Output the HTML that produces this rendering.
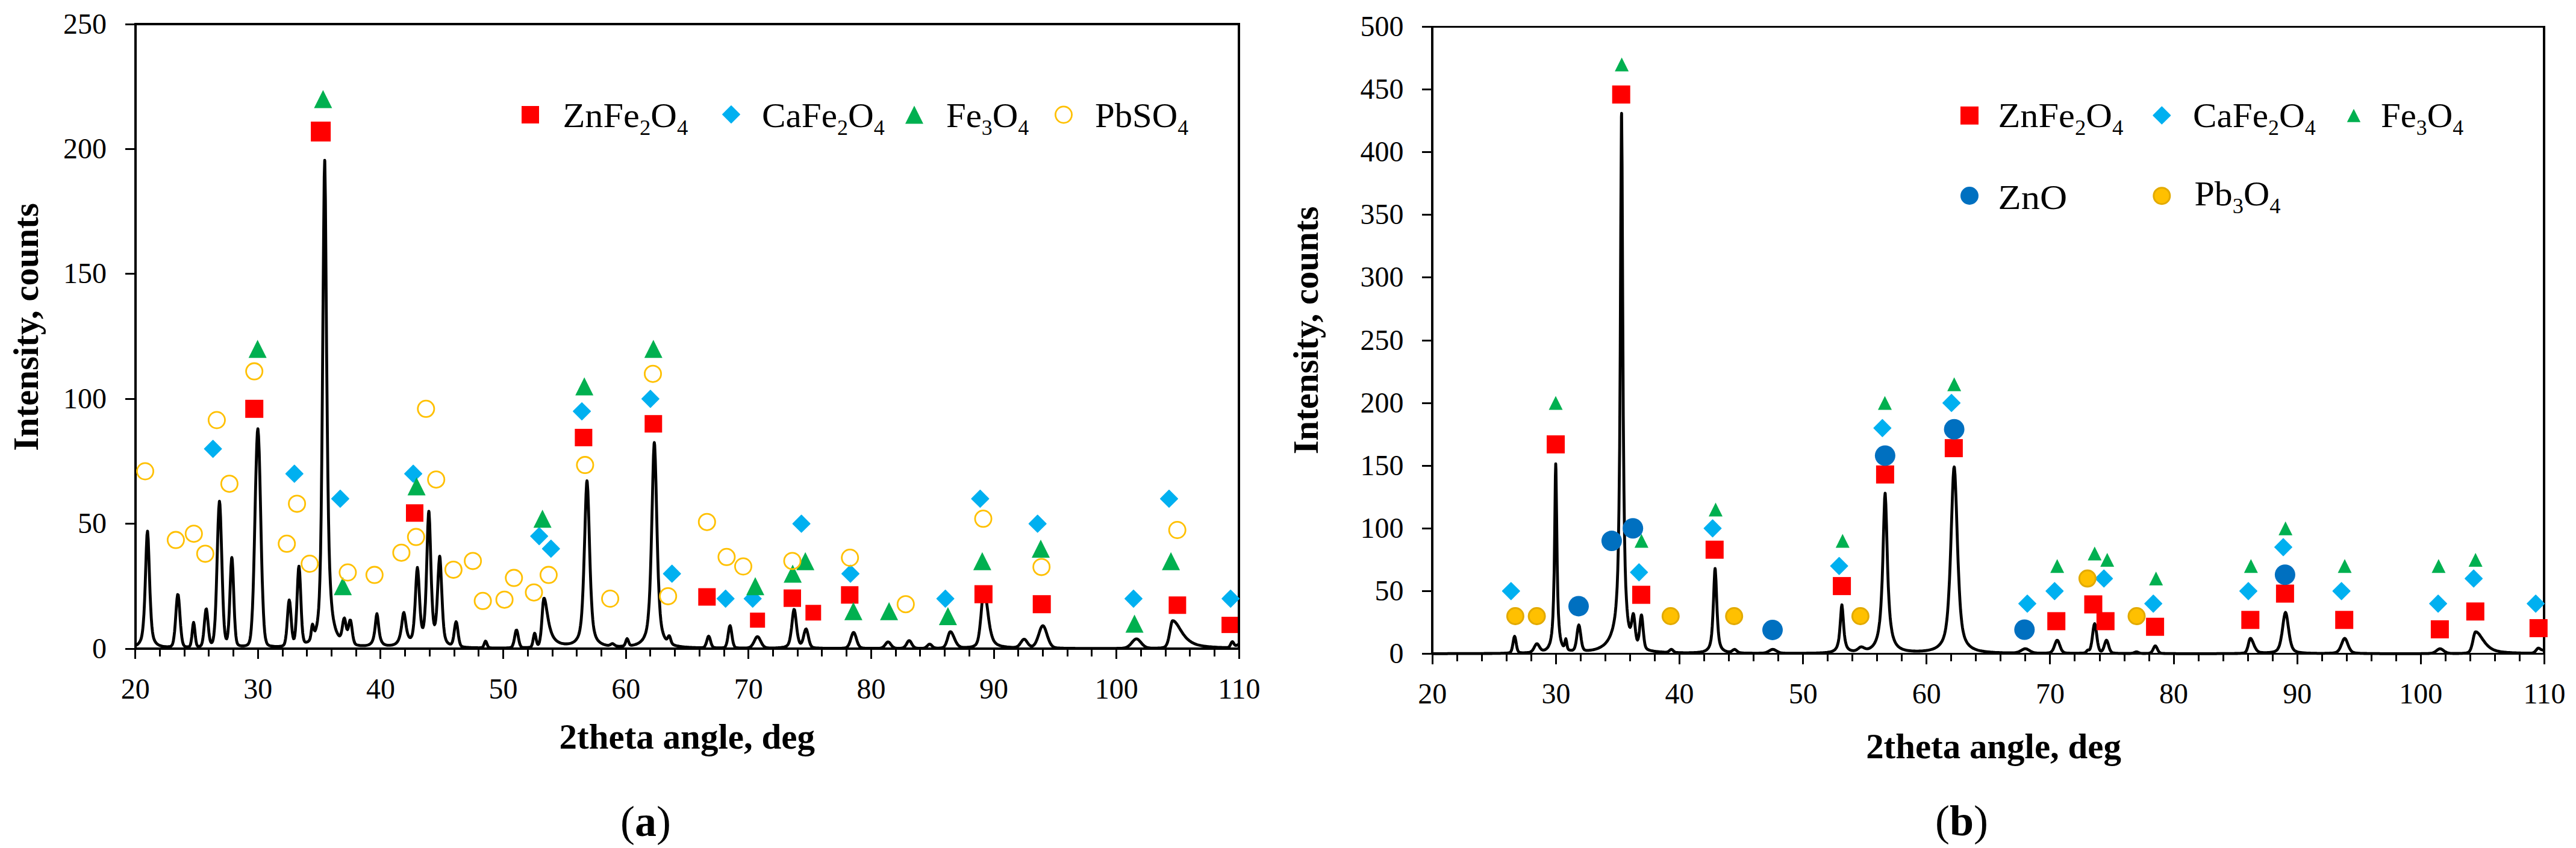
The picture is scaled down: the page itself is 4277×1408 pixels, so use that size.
<!DOCTYPE html>
<html><head><meta charset="utf-8"><title>XRD patterns</title>
<style>html,body{margin:0;padding:0;background:#fff}svg{display:block}</style>
</head><body>
<svg width="4277" height="1408" viewBox="0 0 4277 1408" font-family="Liberation Serif, serif" fill="#000">
<rect width="4277" height="1408" fill="#fff"/>
<g stroke="#000" fill="none" stroke-linecap="butt">
<line x1="225.0" y1="38.0" x2="225.0" y2="1079.0" stroke-width="4"/>
<line x1="2057.0" y1="38.0" x2="2057.0" y2="1079.0" stroke-width="4"/>
<line x1="223.0" y1="40.0" x2="2059.0" y2="40.0" stroke-width="4"/>
<line x1="223.0" y1="1077.0" x2="2059.0" y2="1077.0" stroke-width="4"/>
<line x1="208.0" y1="1077.5" x2="225.0" y2="1077.5" stroke-width="3"/>
<line x1="208.0" y1="869.5" x2="225.0" y2="869.5" stroke-width="3"/>
<line x1="208.0" y1="662.5" x2="225.0" y2="662.5" stroke-width="3"/>
<line x1="208.0" y1="454.5" x2="225.0" y2="454.5" stroke-width="3"/>
<line x1="208.0" y1="247.5" x2="225.0" y2="247.5" stroke-width="3"/>
<line x1="208.0" y1="40.5" x2="225.0" y2="40.5" stroke-width="3"/>
<line x1="224.5" y1="1077.0" x2="224.5" y2="1094" stroke-width="3"/>
<line x1="265.5" y1="1077.0" x2="265.5" y2="1090" stroke-width="3"/>
<line x1="306.5" y1="1077.0" x2="306.5" y2="1090" stroke-width="3"/>
<line x1="346.5" y1="1077.0" x2="346.5" y2="1090" stroke-width="3"/>
<line x1="387.5" y1="1077.0" x2="387.5" y2="1090" stroke-width="3"/>
<line x1="428.5" y1="1077.0" x2="428.5" y2="1094" stroke-width="3"/>
<line x1="469.5" y1="1077.0" x2="469.5" y2="1090" stroke-width="3"/>
<line x1="509.5" y1="1077.0" x2="509.5" y2="1090" stroke-width="3"/>
<line x1="550.5" y1="1077.0" x2="550.5" y2="1090" stroke-width="3"/>
<line x1="591.5" y1="1077.0" x2="591.5" y2="1090" stroke-width="3"/>
<line x1="631.5" y1="1077.0" x2="631.5" y2="1094" stroke-width="3"/>
<line x1="672.5" y1="1077.0" x2="672.5" y2="1090" stroke-width="3"/>
<line x1="713.5" y1="1077.0" x2="713.5" y2="1090" stroke-width="3"/>
<line x1="754.5" y1="1077.0" x2="754.5" y2="1090" stroke-width="3"/>
<line x1="794.5" y1="1077.0" x2="794.5" y2="1090" stroke-width="3"/>
<line x1="835.5" y1="1077.0" x2="835.5" y2="1094" stroke-width="3"/>
<line x1="876.5" y1="1077.0" x2="876.5" y2="1090" stroke-width="3"/>
<line x1="917.5" y1="1077.0" x2="917.5" y2="1090" stroke-width="3"/>
<line x1="957.5" y1="1077.0" x2="957.5" y2="1090" stroke-width="3"/>
<line x1="998.5" y1="1077.0" x2="998.5" y2="1090" stroke-width="3"/>
<line x1="1039.5" y1="1077.0" x2="1039.5" y2="1094" stroke-width="3"/>
<line x1="1079.5" y1="1077.0" x2="1079.5" y2="1090" stroke-width="3"/>
<line x1="1120.5" y1="1077.0" x2="1120.5" y2="1090" stroke-width="3"/>
<line x1="1161.5" y1="1077.0" x2="1161.5" y2="1090" stroke-width="3"/>
<line x1="1202.5" y1="1077.0" x2="1202.5" y2="1090" stroke-width="3"/>
<line x1="1242.5" y1="1077.0" x2="1242.5" y2="1094" stroke-width="3"/>
<line x1="1283.5" y1="1077.0" x2="1283.5" y2="1090" stroke-width="3"/>
<line x1="1324.5" y1="1077.0" x2="1324.5" y2="1090" stroke-width="3"/>
<line x1="1364.5" y1="1077.0" x2="1364.5" y2="1090" stroke-width="3"/>
<line x1="1405.5" y1="1077.0" x2="1405.5" y2="1090" stroke-width="3"/>
<line x1="1446.5" y1="1077.0" x2="1446.5" y2="1094" stroke-width="3"/>
<line x1="1487.5" y1="1077.0" x2="1487.5" y2="1090" stroke-width="3"/>
<line x1="1527.5" y1="1077.0" x2="1527.5" y2="1090" stroke-width="3"/>
<line x1="1568.5" y1="1077.0" x2="1568.5" y2="1090" stroke-width="3"/>
<line x1="1609.5" y1="1077.0" x2="1609.5" y2="1090" stroke-width="3"/>
<line x1="1650.5" y1="1077.0" x2="1650.5" y2="1094" stroke-width="3"/>
<line x1="1690.5" y1="1077.0" x2="1690.5" y2="1090" stroke-width="3"/>
<line x1="1731.5" y1="1077.0" x2="1731.5" y2="1090" stroke-width="3"/>
<line x1="1772.5" y1="1077.0" x2="1772.5" y2="1090" stroke-width="3"/>
<line x1="1812.5" y1="1077.0" x2="1812.5" y2="1090" stroke-width="3"/>
<line x1="1853.5" y1="1077.0" x2="1853.5" y2="1094" stroke-width="3"/>
<line x1="1894.5" y1="1077.0" x2="1894.5" y2="1090" stroke-width="3"/>
<line x1="1935.5" y1="1077.0" x2="1935.5" y2="1090" stroke-width="3"/>
<line x1="1975.5" y1="1077.0" x2="1975.5" y2="1090" stroke-width="3"/>
<line x1="2016.5" y1="1077.0" x2="2016.5" y2="1090" stroke-width="3"/>
<line x1="2057.5" y1="1077.0" x2="2057.5" y2="1094" stroke-width="3"/>
</g>
<text x="177.0" y="1092.5" font-size="48" text-anchor="end" >0</text>
<text x="177.0" y="885.1" font-size="48" text-anchor="end" >50</text>
<text x="177.0" y="677.7" font-size="48" text-anchor="end" >100</text>
<text x="177.0" y="470.3" font-size="48" text-anchor="end" >150</text>
<text x="177.0" y="262.9" font-size="48" text-anchor="end" >200</text>
<text x="177.0" y="55.5" font-size="48" text-anchor="end" >250</text>
<text x="224.7" y="1160.0" font-size="48" text-anchor="middle" >20</text>
<text x="428.3" y="1160.0" font-size="48" text-anchor="middle" >30</text>
<text x="631.9" y="1160.0" font-size="48" text-anchor="middle" >40</text>
<text x="835.6" y="1160.0" font-size="48" text-anchor="middle" >50</text>
<text x="1039.2" y="1160.0" font-size="48" text-anchor="middle" >60</text>
<text x="1242.8" y="1160.0" font-size="48" text-anchor="middle" >70</text>
<text x="1446.4" y="1160.0" font-size="48" text-anchor="middle" >80</text>
<text x="1650.0" y="1160.0" font-size="48" text-anchor="middle" >90</text>
<text x="1853.7" y="1160.0" font-size="48" text-anchor="middle" >100</text>
<text x="2057.3" y="1160.0" font-size="48" text-anchor="middle" >110</text>
<polyline points="224.7,1072.0 225.7,1071.5 226.7,1070.9 227.8,1070.3 228.8,1069.5 229.8,1068.5 230.8,1067.4 231.8,1066.0 232.8,1064.1 233.9,1061.7 234.9,1058.3 235.9,1053.3 236.9,1045.9 237.9,1035.0 239.0,1019.6 240.0,998.7 241.0,972.3 242.0,941.8 243.0,911.3 244.0,888.5 244.9,882.0 245.1,882.5 246.1,896.0 247.1,923.0 248.1,954.2 249.1,983.4 250.2,1007.6 251.2,1026.3 252.2,1039.8 253.2,1049.1 254.2,1055.4 255.2,1059.6 256.3,1062.6 257.3,1064.7 258.3,1066.3 259.3,1067.6 260.3,1068.6 261.4,1069.5 262.4,1070.2 263.4,1070.8 264.4,1071.3 265.4,1071.8 266.4,1072.1 267.5,1072.5 268.5,1072.7 269.5,1073.0 270.5,1073.2 271.5,1073.3 272.6,1073.5 273.6,1073.6 274.6,1073.7 275.6,1073.7 276.6,1073.8 277.6,1073.8 278.7,1073.8 279.7,1073.7 280.7,1073.7 281.7,1073.5 282.7,1073.3 283.7,1072.9 284.8,1072.1 285.8,1070.8 286.8,1068.3 287.8,1064.2 288.8,1057.7 289.9,1048.3 290.9,1035.9 291.9,1021.4 292.9,1006.5 293.9,994.1 294.9,987.2 296.0,988.0 297.0,996.3 298.0,1009.5 299.0,1024.5 300.0,1038.7 301.1,1050.5 302.1,1059.4 303.1,1065.4 304.1,1069.1 305.1,1071.3 306.1,1072.5 307.2,1073.2 308.2,1073.6 309.2,1073.8 310.2,1073.9 311.2,1073.9 312.3,1073.9 313.3,1073.8 314.3,1073.4 315.3,1072.3 316.3,1069.9 317.3,1065.0 318.4,1057.1 319.4,1046.9 320.4,1037.5 321.4,1033.4 322.4,1037.4 323.5,1046.8 324.5,1056.9 325.5,1064.8 326.5,1069.6 327.5,1072.0 328.5,1072.9 329.6,1073.2 330.6,1073.2 331.6,1073.0 332.6,1072.6 333.6,1071.7 334.7,1069.9 335.7,1066.7 336.7,1061.3 337.7,1053.3 338.7,1042.7 339.7,1030.7 340.8,1019.4 341.8,1012.0 342.8,1011.1 343.8,1017.1 344.8,1027.4 345.9,1039.1 346.9,1049.7 347.9,1057.8 348.9,1063.1 349.9,1066.0 350.9,1067.1 352.0,1066.7 353.0,1064.8 354.0,1061.1 355.0,1054.6 356.0,1044.1 357.1,1028.3 358.1,1006.1 359.1,977.3 360.1,942.9 361.1,906.1 362.1,871.4 363.2,844.9 364.2,832.6 364.4,832.3 365.2,837.9 366.2,859.2 367.2,891.2 368.3,927.7 369.3,963.4 370.3,994.5 371.3,1019.2 372.3,1037.2 373.3,1049.2 374.4,1056.6 375.4,1060.2 376.4,1060.7 377.4,1057.7 378.4,1050.5 379.5,1037.6 380.5,1018.2 381.5,993.1 382.5,965.5 383.5,940.9 384.5,926.9 384.9,925.6 385.6,928.8 386.6,945.8 387.6,972.0 388.6,999.9 389.6,1024.5 390.7,1043.2 391.7,1055.7 392.7,1063.2 393.7,1067.4 394.7,1069.5 395.7,1070.7 396.8,1071.3 397.8,1071.7 398.8,1072.0 399.8,1072.2 400.8,1072.3 401.8,1072.3 402.9,1072.4 403.9,1072.3 404.9,1072.3 405.9,1072.2 406.9,1072.0 408.0,1071.8 409.0,1071.5 410.0,1071.1 411.0,1070.5 412.0,1069.5 413.0,1067.9 414.1,1065.4 415.1,1061.2 416.1,1054.6 417.1,1044.6 418.1,1029.9 419.2,1009.3 420.2,982.1 421.2,947.8 422.2,907.3 423.2,862.5 424.2,816.5 425.3,773.8 426.3,739.2 427.3,717.6 428.1,712.0 428.3,712.3 429.3,724.4 430.4,751.7 431.4,790.2 432.4,834.8 433.4,880.8 434.4,924.2 435.4,962.4 436.5,993.9 437.5,1018.4 438.5,1036.5 439.5,1049.2 440.5,1057.7 441.6,1063.2 442.6,1066.7 443.6,1068.8 444.6,1070.2 445.6,1071.0 446.6,1071.6 447.7,1072.0 448.7,1072.3 449.7,1072.5 450.7,1072.7 451.7,1072.9 452.8,1073.0 453.8,1073.1 454.8,1073.2 455.8,1073.3 456.8,1073.3 457.8,1073.4 458.9,1073.4 459.9,1073.4 460.9,1073.4 461.9,1073.3 462.9,1073.3 464.0,1073.2 465.0,1073.1 466.0,1073.0 467.0,1072.8 468.0,1072.6 469.0,1072.3 470.1,1071.8 471.1,1070.9 472.1,1069.2 473.1,1066.0 474.1,1060.6 475.2,1052.2 476.2,1040.5 477.2,1026.3 478.2,1011.9 479.2,1000.6 480.2,996.1 481.3,1000.2 482.3,1011.0 483.3,1025.0 484.3,1038.6 485.3,1049.6 486.4,1056.9 487.4,1060.5 488.4,1060.2 489.4,1055.8 490.4,1046.5 491.4,1031.4 492.5,1010.7 493.5,986.2 494.5,962.2 495.5,945.0 496.3,940.1 496.5,940.4 497.6,950.4 498.6,971.0 499.6,995.7 500.6,1019.0 501.6,1037.5 502.6,1050.5 503.7,1058.5 504.7,1062.9 505.7,1065.0 506.7,1066.0 507.7,1066.3 508.7,1066.2 509.8,1066.0 510.8,1065.6 511.8,1065.0 512.8,1064.2 513.8,1062.7 514.9,1059.8 515.9,1054.6 516.9,1047.0 517.9,1039.5 518.9,1036.2 519.9,1038.6 521.0,1043.4 522.0,1046.8 523.0,1047.4 524.0,1045.5 525.0,1042.0 526.1,1037.1 527.1,1030.8 528.1,1022.1 529.1,1009.7 530.1,991.2 531.1,962.9 532.2,920.0 533.2,856.9 534.2,769.4 535.2,656.9 536.2,525.6 537.3,393.5 538.3,294.3 539.1,266.1 539.3,268.1 540.3,332.9 541.3,455.2 542.3,586.8 543.4,701.2 544.4,791.2 545.4,858.4 546.4,907.2 547.4,942.4 548.5,967.8 549.5,986.4 550.5,1000.5 551.5,1011.5 552.5,1020.1 553.5,1027.2 554.6,1032.9 555.6,1037.7 556.6,1041.7 557.6,1045.1 558.6,1048.0 559.7,1050.4 560.7,1052.5 561.7,1054.1 562.7,1055.3 563.7,1055.8 564.7,1055.3 565.8,1053.5 566.8,1049.9 567.8,1044.6 568.8,1038.1 569.8,1031.7 570.9,1027.1 571.9,1026.1 572.9,1029.1 573.9,1034.6 574.9,1040.5 575.9,1044.5 577.0,1045.5 578.0,1043.2 579.0,1038.5 580.0,1033.2 581.0,1029.7 582.1,1029.9 583.1,1034.2 584.1,1041.2 585.1,1049.0 586.1,1056.1 587.1,1061.7 588.2,1065.5 589.2,1068.0 590.2,1069.4 591.2,1070.2 592.2,1070.7 593.3,1071.0 594.3,1071.2 595.3,1071.4 596.3,1071.5 597.3,1071.7 598.3,1071.8 599.4,1071.8 600.4,1071.9 601.4,1071.9 602.4,1071.9 603.4,1071.9 604.5,1071.9 605.5,1071.9 606.5,1071.8 607.5,1071.7 608.5,1071.5 609.5,1071.3 610.6,1071.0 611.6,1070.7 612.6,1070.3 613.6,1069.8 614.6,1069.1 615.7,1068.2 616.7,1067.1 617.7,1065.5 618.7,1063.3 619.7,1060.1 620.7,1055.7 621.8,1049.5 622.8,1041.4 623.8,1031.7 624.8,1022.8 625.8,1018.9 626.8,1022.8 627.9,1031.7 628.9,1041.4 629.9,1049.5 630.9,1055.7 631.9,1060.1 633.0,1063.2 634.0,1065.5 635.0,1067.0 636.0,1068.2 637.0,1069.1 638.0,1069.7 639.1,1070.2 640.1,1070.6 641.1,1070.9 642.1,1071.1 643.1,1071.3 644.2,1071.4 645.2,1071.4 646.2,1071.4 647.2,1071.4 648.2,1071.3 649.2,1071.2 650.3,1071.1 651.3,1070.9 652.3,1070.6 653.3,1070.3 654.3,1069.9 655.4,1069.4 656.4,1068.9 657.4,1068.1 658.4,1067.2 659.4,1066.1 660.4,1064.6 661.5,1062.7 662.5,1060.2 663.5,1057.0 664.5,1052.7 665.5,1047.2 666.6,1040.5 667.6,1032.6 668.6,1024.7 669.6,1018.7 670.6,1016.9 671.6,1020.2 672.7,1026.8 673.7,1034.4 674.7,1041.4 675.7,1047.1 676.7,1051.5 677.8,1054.7 678.8,1056.8 679.8,1058.2 680.8,1058.7 681.8,1058.6 682.8,1057.5 683.9,1055.3 684.9,1051.3 685.9,1045.0 686.9,1035.4 687.9,1022.2 689.0,1005.1 690.0,985.2 691.0,964.9 692.0,948.8 693.0,942.2 694.0,948.0 695.1,963.4 696.1,982.8 697.1,1001.8 698.1,1017.8 699.1,1029.7 700.2,1037.6 701.2,1041.6 702.2,1042.1 703.2,1039.0 704.2,1031.7 705.2,1019.2 706.3,1000.6 707.3,975.1 708.3,943.5 709.3,908.2 710.3,875.0 711.4,852.9 712.0,848.9 712.4,850.6 713.4,869.2 714.4,900.8 715.4,936.1 716.4,968.6 717.5,995.1 718.5,1014.7 719.5,1027.7 720.5,1034.9 721.5,1037.2 722.6,1035.0 723.6,1028.1 724.6,1016.5 725.6,999.9 726.6,979.2 727.6,956.5 728.7,936.2 729.7,924.5 730.1,923.5 730.7,926.6 731.7,941.8 732.7,964.4 733.8,988.4 734.8,1010.0 735.8,1027.6 736.8,1040.8 737.8,1050.1 738.8,1056.4 739.9,1060.5 740.9,1063.3 741.9,1065.1 742.9,1066.5 743.9,1067.5 744.9,1068.3 746.0,1068.9 747.0,1069.3 748.0,1069.4 749.0,1069.1 750.0,1068.0 751.1,1065.8 752.1,1061.9 753.1,1056.3 754.1,1049.2 755.1,1041.6 756.1,1035.3 757.2,1032.3 758.2,1033.8 759.2,1039.4 760.2,1047.1 761.2,1054.9 762.3,1061.6 763.3,1066.6 764.3,1069.8 765.3,1071.8 766.3,1072.9 767.3,1073.5 768.4,1073.9 769.4,1074.1 770.4,1074.3 771.4,1074.4 772.4,1074.6 773.5,1074.7 774.5,1074.8 775.5,1074.9 776.5,1074.9 777.5,1075.0 778.5,1075.1 779.6,1075.1 780.6,1075.2 781.6,1075.2 782.6,1075.3 783.6,1075.3 784.7,1075.4 785.7,1075.4 786.7,1075.4 787.7,1075.4 788.7,1075.5 789.7,1075.5 790.8,1075.5 791.8,1075.5 792.8,1075.5 793.8,1075.6 794.8,1075.6 795.9,1075.6 796.9,1075.5 797.9,1075.5 798.9,1075.4 799.9,1075.2 800.9,1074.6 802.0,1073.5 803.0,1071.5 804.0,1068.8 805.0,1066.1 806.0,1064.6 807.1,1065.3 808.1,1067.7 809.1,1070.5 810.1,1072.9 811.1,1074.4 812.1,1075.1 813.2,1075.5 814.2,1075.7 815.2,1075.7 816.2,1075.8 817.2,1075.8 818.3,1075.8 819.3,1075.9 820.3,1075.9 821.3,1075.9 822.3,1075.9 823.3,1075.9 824.4,1075.9 825.4,1075.9 826.4,1075.9 827.4,1075.9 828.4,1075.9 829.5,1075.9 830.5,1075.9 831.5,1075.9 832.5,1075.9 833.5,1075.9 834.5,1075.9 835.6,1075.9 836.6,1075.9 837.6,1075.8 838.6,1075.8 839.6,1075.8 840.7,1075.8 841.7,1075.7 842.7,1075.7 843.7,1075.6 844.7,1075.6 845.7,1075.5 846.8,1075.3 847.8,1075.1 848.8,1074.7 849.8,1073.8 850.8,1072.3 851.8,1069.7 852.9,1066.0 853.9,1061.0 854.9,1055.3 855.9,1050.0 856.9,1046.5 858.0,1046.2 859.0,1049.1 860.0,1054.1 861.0,1059.8 862.0,1064.9 863.0,1069.0 864.1,1071.7 865.1,1073.4 866.1,1074.3 867.1,1074.8 868.1,1075.0 869.2,1075.1 870.2,1075.2 871.2,1075.2 872.2,1075.2 873.2,1075.2 874.2,1075.2 875.3,1075.2 876.3,1075.1 877.3,1075.0 878.3,1074.9 879.3,1074.8 880.4,1074.5 881.4,1073.9 882.4,1072.7 883.4,1070.2 884.4,1066.0 885.4,1060.3 886.5,1054.6 887.5,1051.4 888.5,1052.6 889.5,1057.2 890.5,1062.7 891.6,1067.0 892.6,1069.5 893.6,1070.0 894.6,1068.9 895.6,1066.0 896.6,1061.0 897.7,1053.2 898.7,1042.3 899.7,1028.7 900.7,1014.0 901.7,1001.0 902.8,993.5 903.8,993.3 904.8,996.0 905.8,1000.7 906.8,1006.7 907.8,1013.3 908.9,1019.9 909.9,1026.1 910.9,1031.9 911.9,1036.9 912.9,1041.4 914.0,1045.2 915.0,1048.6 916.0,1051.4 917.0,1053.9 918.0,1056.0 919.0,1057.8 920.1,1059.4 921.1,1060.8 922.1,1062.0 923.1,1063.0 924.1,1063.9 925.2,1064.7 926.2,1065.4 927.2,1066.0 928.2,1066.6 929.2,1067.0 930.2,1067.4 931.3,1067.8 932.3,1068.1 933.3,1068.3 934.3,1068.5 935.3,1068.7 936.4,1068.9 937.4,1069.0 938.4,1069.0 939.4,1069.1 940.4,1069.0 941.4,1069.0 942.5,1068.9 943.5,1068.8 944.5,1068.7 945.5,1068.5 946.5,1068.3 947.6,1068.0 948.6,1067.7 949.6,1067.3 950.6,1066.8 951.6,1066.3 952.6,1065.7 953.7,1065.0 954.7,1064.1 955.7,1063.1 956.7,1061.9 957.7,1060.5 958.8,1058.8 959.8,1056.7 960.8,1054.0 961.8,1050.5 962.8,1045.7 963.8,1039.1 964.9,1030.1 965.9,1017.8 966.9,1001.4 967.9,980.1 968.9,953.7 969.9,922.3 971.0,887.3 972.0,851.8 973.0,820.9 974.0,801.6 974.6,798.3 975.0,799.8 976.1,816.0 977.1,845.1 978.1,880.3 979.1,915.7 980.1,948.0 981.1,975.5 982.2,997.9 983.2,1015.3 984.2,1028.4 985.2,1038.0 986.2,1045.1 987.3,1050.2 988.3,1054.0 989.3,1056.9 990.3,1059.2 991.3,1061.0 992.3,1062.6 993.4,1063.8 994.4,1064.9 995.4,1065.9 996.4,1066.7 997.4,1067.4 998.5,1068.1 999.5,1068.6 1000.5,1069.1 1001.5,1069.6 1002.5,1070.0 1003.5,1070.3 1004.6,1070.6 1005.6,1070.9 1006.6,1071.1 1007.6,1071.3 1008.6,1071.4 1009.7,1071.5 1010.7,1071.4 1011.7,1071.2 1012.7,1070.7 1013.7,1070.1 1014.7,1069.5 1015.8,1068.9 1016.8,1068.7 1017.8,1068.9 1018.8,1069.5 1019.8,1070.3 1020.9,1071.1 1021.9,1071.8 1022.9,1072.3 1023.9,1072.7 1024.9,1072.9 1025.9,1073.0 1027.0,1073.1 1028.0,1073.1 1029.0,1073.1 1030.0,1073.1 1031.0,1073.0 1032.1,1073.0 1033.1,1072.9 1034.1,1072.7 1035.1,1072.4 1036.1,1071.6 1037.1,1070.1 1038.2,1067.7 1039.2,1064.6 1040.2,1061.7 1041.2,1060.4 1042.2,1061.5 1043.3,1064.2 1044.3,1067.1 1045.3,1069.4 1046.3,1070.7 1047.3,1071.3 1048.3,1071.4 1049.4,1071.4 1050.4,1071.2 1051.4,1071.0 1052.4,1070.8 1053.4,1070.5 1054.5,1070.2 1055.5,1069.9 1056.5,1069.6 1057.5,1069.1 1058.5,1068.7 1059.5,1068.2 1060.6,1067.6 1061.6,1066.9 1062.6,1066.2 1063.6,1065.4 1064.6,1064.4 1065.7,1063.3 1066.7,1062.1 1067.7,1060.6 1068.7,1058.9 1069.7,1056.9 1070.7,1054.5 1071.8,1051.5 1072.8,1047.8 1073.8,1042.9 1074.8,1036.5 1075.8,1027.8 1076.8,1015.9 1077.9,1000.1 1078.9,979.1 1079.9,952.2 1080.9,919.0 1081.9,879.8 1083.0,836.5 1084.0,793.2 1085.0,756.9 1086.0,736.7 1086.4,734.8 1087.0,739.1 1088.0,763.2 1089.1,801.6 1090.1,845.4 1091.1,888.1 1092.1,926.2 1093.1,958.2 1094.2,983.8 1095.2,1003.7 1096.2,1018.7 1097.2,1029.8 1098.2,1038.0 1099.2,1044.1 1100.3,1048.7 1101.3,1052.3 1102.3,1055.1 1103.3,1057.4 1104.3,1059.2 1105.4,1060.5 1106.4,1061.1 1107.4,1060.7 1108.4,1059.3 1109.4,1057.3 1110.4,1055.6 1111.5,1055.6 1112.5,1057.9 1113.5,1061.3 1114.5,1064.7 1115.5,1067.3 1116.6,1069.0 1117.6,1070.0 1118.6,1070.6 1119.6,1071.1 1120.6,1071.4 1121.6,1071.8 1122.7,1072.0 1123.7,1072.3 1124.7,1072.5 1125.7,1072.7 1126.7,1072.9 1127.8,1073.1 1128.8,1073.3 1129.8,1073.4 1130.8,1073.6 1131.8,1073.7 1132.8,1073.8 1133.9,1074.0 1134.9,1074.1 1135.9,1074.2 1136.9,1074.3 1137.9,1074.4 1139.0,1074.4 1140.0,1074.5 1141.0,1074.6 1142.0,1074.7 1143.0,1074.7 1144.0,1074.8 1145.1,1074.9 1146.1,1074.9 1147.1,1075.0 1148.1,1075.0 1149.1,1075.1 1150.2,1075.1 1151.2,1075.1 1152.2,1075.2 1153.2,1075.2 1154.2,1075.2 1155.2,1075.3 1156.3,1075.3 1157.3,1075.3 1158.3,1075.3 1159.3,1075.4 1160.3,1075.4 1161.4,1075.4 1162.4,1075.4 1163.4,1075.4 1164.4,1075.3 1165.4,1075.3 1166.4,1075.2 1167.5,1075.0 1168.5,1074.6 1169.5,1073.8 1170.5,1072.5 1171.5,1070.3 1172.6,1067.4 1173.6,1063.8 1174.6,1060.2 1175.6,1057.3 1176.6,1056.3 1177.6,1057.4 1178.7,1060.2 1179.7,1063.9 1180.7,1067.5 1181.7,1070.5 1182.7,1072.6 1183.8,1074.0 1184.8,1074.8 1185.8,1075.2 1186.8,1075.4 1187.8,1075.5 1188.8,1075.6 1189.9,1075.7 1190.9,1075.7 1191.9,1075.7 1192.9,1075.7 1193.9,1075.7 1194.9,1075.7 1196.0,1075.7 1197.0,1075.7 1198.0,1075.6 1199.0,1075.6 1200.0,1075.5 1201.1,1075.3 1202.1,1075.1 1203.1,1074.6 1204.1,1073.7 1205.1,1072.0 1206.1,1069.2 1207.2,1064.8 1208.2,1058.9 1209.2,1051.9 1210.2,1045.1 1211.2,1040.2 1212.3,1038.9 1213.3,1041.8 1214.3,1047.7 1215.3,1054.8 1216.3,1061.4 1217.3,1066.8 1218.4,1070.5 1219.4,1072.9 1220.4,1074.2 1221.4,1074.9 1222.4,1075.3 1223.5,1075.5 1224.5,1075.6 1225.5,1075.7 1226.5,1075.8 1227.5,1075.8 1228.5,1075.9 1229.6,1075.9 1230.6,1075.9 1231.6,1075.9 1232.6,1075.9 1233.6,1076.0 1234.7,1075.9 1235.7,1075.9 1236.7,1075.9 1237.7,1075.9 1238.7,1075.9 1239.7,1075.8 1240.8,1075.7 1241.8,1075.6 1242.8,1075.4 1243.8,1075.0 1244.8,1074.6 1245.9,1074.0 1246.9,1073.2 1247.9,1072.1 1248.9,1070.8 1249.9,1069.2 1250.9,1067.3 1252.0,1065.3 1253.0,1063.2 1254.0,1061.2 1255.0,1059.4 1256.0,1058.0 1257.1,1057.2 1258.1,1057.1 1259.1,1057.8 1260.1,1059.0 1261.1,1060.8 1262.1,1062.8 1263.2,1064.9 1264.2,1066.9 1265.2,1068.8 1266.2,1070.5 1267.2,1071.8 1268.3,1073.0 1269.3,1073.8 1270.3,1074.5 1271.3,1074.9 1272.3,1075.3 1273.3,1075.5 1274.4,1075.6 1275.4,1075.7 1276.4,1075.8 1277.4,1075.8 1278.4,1075.9 1279.5,1075.9 1280.5,1075.9 1281.5,1075.9 1282.5,1075.9 1283.5,1075.9 1284.5,1075.8 1285.6,1075.8 1286.6,1075.8 1287.6,1075.8 1288.6,1075.7 1289.6,1075.7 1290.7,1075.6 1291.7,1075.6 1292.7,1075.5 1293.7,1075.4 1294.7,1075.4 1295.7,1075.3 1296.8,1075.1 1297.8,1075.0 1298.8,1074.9 1299.8,1074.7 1300.8,1074.5 1301.8,1074.3 1302.9,1074.0 1303.9,1073.6 1304.9,1073.2 1305.9,1072.6 1306.9,1071.8 1308.0,1070.6 1309.0,1068.9 1310.0,1066.4 1311.0,1062.8 1312.0,1057.8 1313.0,1051.2 1314.1,1043.1 1315.1,1033.9 1316.1,1024.5 1317.1,1016.5 1318.1,1011.9 1319.2,1012.4 1320.2,1017.8 1321.2,1026.2 1322.2,1035.6 1323.2,1044.6 1324.2,1052.2 1325.3,1058.3 1326.3,1062.8 1327.3,1065.8 1328.3,1067.5 1329.3,1068.0 1330.4,1067.5 1331.4,1066.0 1332.4,1063.3 1333.4,1059.8 1334.4,1055.6 1335.4,1051.2 1336.5,1047.3 1337.5,1044.8 1338.5,1044.3 1339.5,1046.0 1340.5,1049.5 1341.6,1054.0 1342.6,1058.8 1343.6,1063.3 1344.6,1067.0 1345.6,1069.9 1346.6,1072.0 1347.7,1073.4 1348.7,1074.3 1349.7,1074.8 1350.7,1075.2 1351.7,1075.4 1352.8,1075.6 1353.8,1075.7 1354.8,1075.8 1355.8,1075.8 1356.8,1075.9 1357.8,1076.0 1358.9,1076.0 1359.9,1076.1 1360.9,1076.1 1361.9,1076.1 1362.9,1076.2 1364.0,1076.2 1365.0,1076.2 1366.0,1076.3 1367.0,1076.3 1368.0,1076.3 1369.0,1076.3 1370.1,1076.3 1371.1,1076.3 1372.1,1076.4 1373.1,1076.4 1374.1,1076.4 1375.2,1076.4 1376.2,1076.4 1377.2,1076.4 1378.2,1076.4 1379.2,1076.4 1380.2,1076.4 1381.3,1076.4 1382.3,1076.4 1383.3,1076.4 1384.3,1076.4 1385.3,1076.4 1386.4,1076.4 1387.4,1076.4 1388.4,1076.4 1389.4,1076.4 1390.4,1076.4 1391.4,1076.4 1392.5,1076.4 1393.5,1076.4 1394.5,1076.3 1395.5,1076.3 1396.5,1076.3 1397.6,1076.3 1398.6,1076.2 1399.6,1076.2 1400.6,1076.1 1401.6,1076.0 1402.6,1075.9 1403.7,1075.6 1404.7,1075.3 1405.7,1074.7 1406.7,1073.9 1407.7,1072.7 1408.8,1071.1 1409.8,1069.0 1410.8,1066.4 1411.8,1063.4 1412.8,1060.0 1413.8,1056.7 1414.9,1053.6 1415.9,1051.3 1416.9,1050.1 1417.9,1050.3 1418.9,1051.7 1419.9,1054.2 1421.0,1057.3 1422.0,1060.7 1423.0,1064.0 1424.0,1067.0 1425.0,1069.5 1426.1,1071.5 1427.1,1073.0 1428.1,1074.1 1429.1,1074.9 1430.1,1075.4 1431.1,1075.7 1432.2,1075.9 1433.2,1076.1 1434.2,1076.2 1435.2,1076.2 1436.2,1076.3 1437.3,1076.3 1438.3,1076.4 1439.3,1076.4 1440.3,1076.4 1441.3,1076.4 1442.3,1076.4 1443.4,1076.5 1444.4,1076.5 1445.4,1076.5 1446.4,1076.5 1447.4,1076.5 1448.5,1076.5 1449.5,1076.5 1450.5,1076.5 1451.5,1076.5 1452.5,1076.5 1453.5,1076.5 1454.6,1076.5 1455.6,1076.5 1456.6,1076.5 1457.6,1076.4 1458.6,1076.4 1459.7,1076.3 1460.7,1076.3 1461.7,1076.1 1462.7,1075.9 1463.7,1075.6 1464.7,1075.2 1465.8,1074.6 1466.8,1073.7 1467.8,1072.7 1468.8,1071.5 1469.8,1070.2 1470.9,1068.8 1471.9,1067.5 1472.9,1066.5 1473.9,1065.9 1474.9,1065.8 1475.9,1066.3 1477.0,1067.3 1478.0,1068.5 1479.0,1069.9 1480.0,1071.2 1481.0,1072.5 1482.1,1073.5 1483.1,1074.4 1484.1,1075.0 1485.1,1075.5 1486.1,1075.8 1487.1,1076.0 1488.2,1076.2 1489.2,1076.3 1490.2,1076.3 1491.2,1076.3 1492.2,1076.3 1493.3,1076.3 1494.3,1076.3 1495.3,1076.3 1496.3,1076.2 1497.3,1076.1 1498.3,1075.8 1499.4,1075.5 1500.4,1075.0 1501.4,1074.2 1502.4,1073.2 1503.4,1071.9 1504.5,1070.3 1505.5,1068.5 1506.5,1066.7 1507.5,1065.2 1508.5,1064.1 1509.5,1063.7 1510.6,1064.1 1511.6,1065.2 1512.6,1066.7 1513.6,1068.5 1514.6,1070.3 1515.7,1071.9 1516.7,1073.2 1517.7,1074.2 1518.7,1075.0 1519.7,1075.5 1520.7,1075.9 1521.8,1076.1 1522.8,1076.2 1523.8,1076.3 1524.8,1076.3 1525.8,1076.3 1526.8,1076.4 1527.9,1076.4 1528.9,1076.4 1529.9,1076.4 1530.9,1076.3 1531.9,1076.3 1533.0,1076.2 1534.0,1076.0 1535.0,1075.7 1536.0,1075.3 1537.0,1074.7 1538.0,1073.9 1539.1,1072.9 1540.1,1071.9 1541.1,1070.9 1542.1,1070.0 1543.1,1069.6 1544.2,1069.6 1545.2,1070.1 1546.2,1071.0 1547.2,1072.0 1548.2,1073.1 1549.2,1074.0 1550.3,1074.7 1551.3,1075.3 1552.3,1075.7 1553.3,1075.9 1554.3,1076.0 1555.4,1076.1 1556.4,1076.1 1557.4,1076.1 1558.4,1076.1 1559.4,1076.1 1560.4,1076.0 1561.5,1075.9 1562.5,1075.8 1563.5,1075.6 1564.5,1075.4 1565.5,1075.0 1566.6,1074.4 1567.6,1073.4 1568.6,1072.1 1569.6,1070.4 1570.6,1068.1 1571.6,1065.2 1572.7,1062.0 1573.7,1058.5 1574.7,1055.0 1575.7,1052.0 1576.7,1049.8 1577.8,1048.8 1578.8,1049.0 1579.8,1049.9 1580.8,1051.5 1581.8,1053.4 1582.8,1055.7 1583.9,1058.1 1584.9,1060.5 1585.9,1062.8 1586.9,1065.0 1587.9,1066.9 1589.0,1068.6 1590.0,1070.1 1591.0,1071.2 1592.0,1072.2 1593.0,1072.9 1594.0,1073.5 1595.1,1074.0 1596.1,1074.3 1597.1,1074.5 1598.1,1074.7 1599.1,1074.8 1600.2,1074.8 1601.2,1074.9 1602.2,1074.9 1603.2,1074.9 1604.2,1074.8 1605.2,1074.8 1606.3,1074.7 1607.3,1074.7 1608.3,1074.6 1609.3,1074.5 1610.3,1074.3 1611.4,1074.2 1612.4,1074.0 1613.4,1073.8 1614.4,1073.5 1615.4,1073.2 1616.4,1072.8 1617.5,1072.3 1618.5,1071.7 1619.5,1070.9 1620.5,1069.7 1621.5,1068.0 1622.6,1065.5 1623.6,1062.1 1624.6,1057.4 1625.6,1051.2 1626.6,1043.2 1627.6,1033.6 1628.7,1022.4 1629.7,1010.3 1630.7,998.3 1631.7,987.6 1632.7,980.2 1633.8,977.4 1634.8,978.9 1635.8,983.1 1636.8,989.4 1637.8,997.1 1638.8,1005.5 1639.9,1013.9 1640.9,1022.1 1641.9,1029.7 1642.9,1036.5 1643.9,1042.6 1644.9,1047.8 1646.0,1052.3 1647.0,1056.0 1648.0,1059.1 1649.0,1061.6 1650.0,1063.7 1651.1,1065.4 1652.1,1066.7 1653.1,1067.8 1654.1,1068.7 1655.1,1069.5 1656.1,1070.1 1657.2,1070.7 1658.2,1071.1 1659.2,1071.6 1660.2,1071.9 1661.2,1072.2 1662.3,1072.5 1663.3,1072.8 1664.3,1073.0 1665.3,1073.2 1666.3,1073.4 1667.3,1073.6 1668.4,1073.7 1669.4,1073.9 1670.4,1074.0 1671.4,1074.1 1672.4,1074.3 1673.5,1074.4 1674.5,1074.4 1675.5,1074.5 1676.5,1074.6 1677.5,1074.7 1678.5,1074.7 1679.6,1074.8 1680.6,1074.8 1681.6,1074.8 1682.6,1074.8 1683.6,1074.8 1684.7,1074.7 1685.7,1074.6 1686.7,1074.4 1687.7,1074.0 1688.7,1073.6 1689.7,1073.0 1690.8,1072.2 1691.8,1071.1 1692.8,1069.9 1693.8,1068.5 1694.8,1067.0 1695.9,1065.5 1696.9,1064.0 1697.9,1062.7 1698.9,1061.8 1699.9,1061.3 1700.9,1061.3 1702.0,1061.9 1703.0,1062.9 1704.0,1064.2 1705.0,1065.7 1706.0,1067.2 1707.1,1068.7 1708.1,1069.9 1709.1,1071.0 1710.1,1071.9 1711.1,1072.4 1712.1,1072.7 1713.2,1072.8 1714.2,1072.6 1715.2,1072.1 1716.2,1071.3 1717.2,1070.3 1718.3,1068.9 1719.3,1067.2 1720.3,1065.1 1721.3,1062.8 1722.3,1060.1 1723.3,1057.2 1724.4,1054.1 1725.4,1050.9 1726.4,1047.8 1727.4,1044.9 1728.4,1042.4 1729.5,1040.5 1730.5,1039.3 1731.5,1038.8 1732.5,1039.3 1733.5,1040.5 1734.5,1042.5 1735.6,1045.0 1736.6,1048.0 1737.6,1051.1 1738.6,1054.3 1739.6,1057.4 1740.7,1060.4 1741.7,1063.1 1742.7,1065.5 1743.7,1067.6 1744.7,1069.4 1745.7,1070.9 1746.8,1072.1 1747.8,1073.0 1748.8,1073.8 1749.8,1074.3 1750.8,1074.8 1751.8,1075.1 1752.9,1075.3 1753.9,1075.5 1754.9,1075.7 1755.9,1075.8 1756.9,1075.9 1758.0,1075.9 1759.0,1076.0 1760.0,1076.1 1761.0,1076.1 1762.0,1076.1 1763.0,1076.2 1764.1,1076.2 1765.1,1076.2 1766.1,1076.3 1767.1,1076.3 1768.1,1076.3 1769.2,1076.3 1770.2,1076.4 1771.2,1076.4 1772.2,1076.4 1773.2,1076.4 1774.2,1076.4 1775.3,1076.4 1776.3,1076.5 1777.3,1076.5 1778.3,1076.5 1779.3,1076.5 1780.4,1076.5 1781.4,1076.5 1782.4,1076.5 1783.4,1076.5 1784.4,1076.5 1785.4,1076.6 1786.5,1076.6 1787.5,1076.6 1788.5,1076.6 1789.5,1076.6 1790.5,1076.6 1791.6,1076.6 1792.6,1076.6 1793.6,1076.6 1794.6,1076.6 1795.6,1076.6 1796.6,1076.6 1797.7,1076.6 1798.7,1076.6 1799.7,1076.6 1800.7,1076.6 1801.7,1076.6 1802.8,1076.6 1803.8,1076.7 1804.8,1076.7 1805.8,1076.7 1806.8,1076.7 1807.8,1076.7 1808.9,1076.7 1809.9,1076.7 1810.9,1076.7 1811.9,1076.7 1812.9,1076.7 1814.0,1076.7 1815.0,1076.7 1816.0,1076.7 1817.0,1076.7 1818.0,1076.7 1819.0,1076.7 1820.1,1076.7 1821.1,1076.7 1822.1,1076.7 1823.1,1076.7 1824.1,1076.7 1825.2,1076.7 1826.2,1076.7 1827.2,1076.7 1828.2,1076.7 1829.2,1076.7 1830.2,1076.7 1831.3,1076.7 1832.3,1076.7 1833.3,1076.7 1834.3,1076.7 1835.3,1076.7 1836.4,1076.7 1837.4,1076.7 1838.4,1076.7 1839.4,1076.7 1840.4,1076.7 1841.4,1076.7 1842.5,1076.7 1843.5,1076.6 1844.5,1076.6 1845.5,1076.6 1846.5,1076.6 1847.6,1076.6 1848.6,1076.6 1849.6,1076.6 1850.6,1076.6 1851.6,1076.6 1852.6,1076.6 1853.7,1076.6 1854.7,1076.5 1855.7,1076.5 1856.7,1076.5 1857.7,1076.5 1858.8,1076.5 1859.8,1076.4 1860.8,1076.4 1861.8,1076.3 1862.8,1076.3 1863.8,1076.2 1864.9,1076.1 1865.9,1075.9 1866.9,1075.8 1867.9,1075.5 1868.9,1075.2 1869.9,1074.9 1871.0,1074.4 1872.0,1073.9 1873.0,1073.2 1874.0,1072.4 1875.0,1071.6 1876.1,1070.6 1877.1,1069.5 1878.1,1068.3 1879.1,1067.1 1880.1,1065.9 1881.1,1064.7 1882.2,1063.6 1883.2,1062.6 1884.2,1061.8 1885.2,1061.2 1886.2,1060.9 1887.3,1060.8 1888.3,1061.1 1889.3,1061.6 1890.3,1062.4 1891.3,1063.4 1892.3,1064.5 1893.4,1065.6 1894.4,1066.8 1895.4,1068.1 1896.4,1069.2 1897.4,1070.3 1898.5,1071.3 1899.5,1072.2 1900.5,1073.0 1901.5,1073.6 1902.5,1074.2 1903.5,1074.7 1904.6,1075.0 1905.6,1075.3 1906.6,1075.6 1907.6,1075.7 1908.6,1075.9 1909.7,1076.0 1910.7,1076.1 1911.7,1076.1 1912.7,1076.1 1913.7,1076.2 1914.7,1076.2 1915.8,1076.2 1916.8,1076.2 1917.8,1076.2 1918.8,1076.1 1919.8,1076.1 1920.9,1076.1 1921.9,1076.1 1922.9,1076.0 1923.9,1076.0 1924.9,1075.9 1925.9,1075.8 1927.0,1075.8 1928.0,1075.7 1929.0,1075.5 1930.0,1075.4 1931.0,1075.2 1932.1,1074.9 1933.1,1074.5 1934.1,1073.9 1935.1,1073.0 1936.1,1071.7 1937.1,1069.8 1938.2,1067.3 1939.2,1063.9 1940.2,1059.7 1941.2,1054.7 1942.2,1049.2 1943.3,1043.4 1944.3,1038.0 1945.3,1033.6 1946.3,1031.0 1947.3,1030.6 1948.3,1030.8 1949.4,1031.3 1950.4,1032.1 1951.4,1033.0 1952.4,1034.2 1953.4,1035.5 1954.5,1036.9 1955.5,1038.5 1956.5,1040.1 1957.5,1041.7 1958.5,1043.4 1959.5,1045.1 1960.6,1046.7 1961.6,1048.3 1962.6,1049.9 1963.6,1051.4 1964.6,1052.9 1965.7,1054.3 1966.7,1055.6 1967.7,1056.9 1968.7,1058.1 1969.7,1059.2 1970.7,1060.2 1971.8,1061.2 1972.8,1062.2 1973.8,1063.0 1974.8,1063.9 1975.8,1064.6 1976.9,1065.3 1977.9,1066.0 1978.9,1066.6 1979.9,1067.2 1980.9,1067.7 1981.9,1068.2 1983.0,1068.6 1984.0,1069.1 1985.0,1069.5 1986.0,1069.8 1987.0,1070.2 1988.0,1070.5 1989.1,1070.8 1990.1,1071.0 1991.1,1071.3 1992.1,1071.5 1993.1,1071.7 1994.2,1072.0 1995.2,1072.2 1996.2,1072.3 1997.2,1072.5 1998.2,1072.7 1999.2,1072.8 2000.3,1073.0 2001.3,1073.1 2002.3,1073.2 2003.3,1073.3 2004.3,1073.5 2005.4,1073.6 2006.4,1073.7 2007.4,1073.8 2008.4,1073.9 2009.4,1074.0 2010.4,1074.0 2011.5,1074.1 2012.5,1074.2 2013.5,1074.3 2014.5,1074.3 2015.5,1074.4 2016.6,1074.5 2017.6,1074.5 2018.6,1074.6 2019.6,1074.7 2020.6,1074.7 2021.6,1074.8 2022.7,1074.8 2023.7,1074.9 2024.7,1074.9 2025.7,1075.0 2026.7,1075.0 2027.8,1075.0 2028.8,1075.1 2029.8,1075.1 2030.8,1075.1 2031.8,1075.1 2032.8,1075.2 2033.9,1075.2 2034.9,1075.2 2035.9,1075.2 2036.9,1075.2 2037.9,1075.1 2039.0,1074.8 2040.0,1074.4 2041.0,1073.5 2042.0,1072.1 2043.0,1070.2 2044.0,1068.0 2045.1,1066.2 2046.1,1065.4 2047.1,1066.0 2048.1,1067.5 2049.1,1069.3 2050.2,1070.8 2051.2,1071.6 2052.2,1071.7 2053.2,1071.4 2054.2,1070.9 2055.2,1070.5 2056.3,1070.4 2057.3,1070.6" fill="none" stroke="#000" stroke-width="4.8" stroke-linejoin="round" stroke-linecap="butt"/>
<rect x="407.2" y="663.8" width="30" height="30" fill="#FF0000"/>
<rect x="516.1" y="201.9" width="33" height="33" fill="#FF0000"/>
<rect x="674.0" y="837.3" width="29" height="29" fill="#FF0000"/>
<rect x="954.4" y="712.0" width="29" height="29" fill="#FF0000"/>
<rect x="1070.3" y="689.2" width="29" height="29" fill="#FF0000"/>
<rect x="1159.3" y="976.6" width="29" height="29" fill="#FF0000"/>
<rect x="1245.2" y="1017.2" width="25" height="25" fill="#FF0000"/>
<rect x="1301.0" y="978.7" width="29" height="29" fill="#FF0000"/>
<rect x="1337.3" y="1004.3" width="26" height="26" fill="#FF0000"/>
<rect x="1396.3" y="973.3" width="29" height="29" fill="#FF0000"/>
<rect x="1617.9" y="971.6" width="30" height="30" fill="#FF0000"/>
<rect x="1714.7" y="988.2" width="30" height="30" fill="#FF0000"/>
<rect x="1940.4" y="990.3" width="29" height="29" fill="#FF0000"/>
<rect x="2028.1" y="1024.1" width="27" height="27" fill="#FF0000"/>
<path d="M353.6 731.0L367.8 745.2L353.6 759.4L339.4 745.2Z" fill="#00B0F0" stroke="#00B0F0" stroke-width="1.6" stroke-linejoin="round"/>
<path d="M488.8 772.4L503.0 786.6L488.8 800.8L474.6 786.6Z" fill="#00B0F0" stroke="#00B0F0" stroke-width="1.6" stroke-linejoin="round"/>
<path d="M564.9 813.9L579.1 828.1L564.9 842.3L550.7 828.1Z" fill="#00B0F0" stroke="#00B0F0" stroke-width="1.6" stroke-linejoin="round"/>
<path d="M686.1 772.4L700.3 786.6L686.1 800.8L671.9 786.6Z" fill="#00B0F0" stroke="#00B0F0" stroke-width="1.6" stroke-linejoin="round"/>
<path d="M895.2 876.1L909.4 890.3L895.2 904.5L881.0 890.3Z" fill="#00B0F0" stroke="#00B0F0" stroke-width="1.6" stroke-linejoin="round"/>
<path d="M914.8 896.9L929.0 911.1L914.8 925.3L900.6 911.1Z" fill="#00B0F0" stroke="#00B0F0" stroke-width="1.6" stroke-linejoin="round"/>
<path d="M966.1 668.7L980.3 682.9L966.1 697.1L951.9 682.9Z" fill="#00B0F0" stroke="#00B0F0" stroke-width="1.6" stroke-linejoin="round"/>
<path d="M1079.9 648.0L1094.1 662.2L1079.9 676.4L1065.7 662.2Z" fill="#00B0F0" stroke="#00B0F0" stroke-width="1.6" stroke-linejoin="round"/>
<path d="M1115.7 938.4L1129.9 952.6L1115.7 966.8L1101.5 952.6Z" fill="#00B0F0" stroke="#00B0F0" stroke-width="1.6" stroke-linejoin="round"/>
<path d="M1204.7 979.8L1218.9 994.0L1204.7 1008.2L1190.5 994.0Z" fill="#00B0F0" stroke="#00B0F0" stroke-width="1.6" stroke-linejoin="round"/>
<path d="M1249.7 979.8L1263.9 994.0L1249.7 1008.2L1235.5 994.0Z" fill="#00B0F0" stroke="#00B0F0" stroke-width="1.6" stroke-linejoin="round"/>
<path d="M1330.6 855.4L1344.8 869.6L1330.6 883.8L1316.4 869.6Z" fill="#00B0F0" stroke="#00B0F0" stroke-width="1.6" stroke-linejoin="round"/>
<path d="M1412.0 938.4L1426.2 952.6L1412.0 966.8L1397.8 952.6Z" fill="#00B0F0" stroke="#00B0F0" stroke-width="1.6" stroke-linejoin="round"/>
<path d="M1569.6 979.8L1583.8 994.0L1569.6 1008.2L1555.4 994.0Z" fill="#00B0F0" stroke="#00B0F0" stroke-width="1.6" stroke-linejoin="round"/>
<path d="M1627.4 813.9L1641.6 828.1L1627.4 842.3L1613.2 828.1Z" fill="#00B0F0" stroke="#00B0F0" stroke-width="1.6" stroke-linejoin="round"/>
<path d="M1722.7 855.4L1736.9 869.6L1722.7 883.8L1708.5 869.6Z" fill="#00B0F0" stroke="#00B0F0" stroke-width="1.6" stroke-linejoin="round"/>
<path d="M1882.0 979.8L1896.2 994.0L1882.0 1008.2L1867.8 994.0Z" fill="#00B0F0" stroke="#00B0F0" stroke-width="1.6" stroke-linejoin="round"/>
<path d="M1941.0 813.9L1955.2 828.1L1941.0 842.3L1926.8 828.1Z" fill="#00B0F0" stroke="#00B0F0" stroke-width="1.6" stroke-linejoin="round"/>
<path d="M2043.2 979.8L2057.4 994.0L2043.2 1008.2L2029.0 994.0Z" fill="#00B0F0" stroke="#00B0F0" stroke-width="1.6" stroke-linejoin="round"/>
<path d="M427.7 564.2L442.7 594.2L412.7 594.2Z" fill="#00B050"/>
<path d="M536.4 149.4L551.4 179.4L521.4 179.4Z" fill="#00B050"/>
<path d="M569.2 958.3L584.2 988.3L554.2 988.3Z" fill="#00B050"/>
<path d="M691.6 792.4L706.6 822.4L676.6 822.4Z" fill="#00B050"/>
<path d="M900.7 846.3L915.7 876.3L885.7 876.3Z" fill="#00B050"/>
<path d="M970.2 626.5L985.2 656.5L955.2 656.5Z" fill="#00B050"/>
<path d="M1084.8 564.2L1099.8 594.2L1069.8 594.2Z" fill="#00B050"/>
<path d="M1254.0 958.3L1269.0 988.3L1239.0 988.3Z" fill="#00B050"/>
<path d="M1316.1 937.6L1331.1 967.6L1301.1 967.6Z" fill="#00B050"/>
<path d="M1337.1 916.8L1352.1 946.8L1322.1 946.8Z" fill="#00B050"/>
<path d="M1416.9 999.8L1431.9 1029.8L1401.9 1029.8Z" fill="#00B050"/>
<path d="M1476.1 999.8L1491.1 1029.8L1461.1 1029.8Z" fill="#00B050"/>
<path d="M1573.9 1008.1L1588.9 1038.1L1558.9 1038.1Z" fill="#00B050"/>
<path d="M1630.9 916.8L1645.9 946.8L1615.9 946.8Z" fill="#00B050"/>
<path d="M1728.0 896.1L1743.0 926.1L1713.0 926.1Z" fill="#00B050"/>
<path d="M1883.6 1020.5L1898.6 1050.5L1868.6 1050.5Z" fill="#00B050"/>
<path d="M1944.1 916.8L1959.1 946.8L1929.1 946.8Z" fill="#00B050"/>
<circle cx="241.0" cy="782.5" r="13.6" fill="none" stroke="#FFC000" stroke-width="2.8"/>
<circle cx="291.9" cy="896.6" r="13.6" fill="none" stroke="#FFC000" stroke-width="2.8"/>
<circle cx="321.8" cy="886.2" r="13.6" fill="none" stroke="#FFC000" stroke-width="2.8"/>
<circle cx="340.8" cy="919.4" r="13.6" fill="none" stroke="#FFC000" stroke-width="2.8"/>
<circle cx="359.9" cy="697.5" r="13.6" fill="none" stroke="#FFC000" stroke-width="2.8"/>
<circle cx="380.9" cy="803.2" r="13.6" fill="none" stroke="#FFC000" stroke-width="2.8"/>
<circle cx="422.2" cy="616.6" r="13.6" fill="none" stroke="#FFC000" stroke-width="2.8"/>
<circle cx="476.2" cy="902.8" r="13.6" fill="none" stroke="#FFC000" stroke-width="2.8"/>
<circle cx="493.1" cy="836.4" r="13.6" fill="none" stroke="#FFC000" stroke-width="2.8"/>
<circle cx="514.2" cy="936.0" r="13.6" fill="none" stroke="#FFC000" stroke-width="2.8"/>
<circle cx="577.4" cy="950.5" r="13.6" fill="none" stroke="#FFC000" stroke-width="2.8"/>
<circle cx="621.8" cy="954.6" r="13.6" fill="none" stroke="#FFC000" stroke-width="2.8"/>
<circle cx="666.4" cy="917.7" r="13.6" fill="none" stroke="#FFC000" stroke-width="2.8"/>
<circle cx="690.8" cy="891.6" r="13.6" fill="none" stroke="#FFC000" stroke-width="2.8"/>
<circle cx="707.3" cy="678.8" r="13.6" fill="none" stroke="#FFC000" stroke-width="2.8"/>
<circle cx="724.2" cy="796.2" r="13.6" fill="none" stroke="#FFC000" stroke-width="2.8"/>
<circle cx="752.9" cy="945.9" r="13.6" fill="none" stroke="#FFC000" stroke-width="2.8"/>
<circle cx="785.1" cy="931.4" r="13.6" fill="none" stroke="#FFC000" stroke-width="2.8"/>
<circle cx="801.6" cy="997.8" r="13.6" fill="none" stroke="#FFC000" stroke-width="2.8"/>
<circle cx="837.6" cy="995.7" r="13.6" fill="none" stroke="#FFC000" stroke-width="2.8"/>
<circle cx="853.3" cy="959.6" r="13.6" fill="none" stroke="#FFC000" stroke-width="2.8"/>
<circle cx="886.5" cy="983.7" r="13.6" fill="none" stroke="#FFC000" stroke-width="2.8"/>
<circle cx="910.9" cy="954.6" r="13.6" fill="none" stroke="#FFC000" stroke-width="2.8"/>
<circle cx="971.4" cy="772.1" r="13.6" fill="none" stroke="#FFC000" stroke-width="2.8"/>
<circle cx="1013.1" cy="994.0" r="13.6" fill="none" stroke="#FFC000" stroke-width="2.8"/>
<circle cx="1084.0" cy="620.7" r="13.6" fill="none" stroke="#FFC000" stroke-width="2.8"/>
<circle cx="1109.2" cy="989.9" r="13.6" fill="none" stroke="#FFC000" stroke-width="2.8"/>
<circle cx="1173.8" cy="866.7" r="13.6" fill="none" stroke="#FFC000" stroke-width="2.8"/>
<circle cx="1206.4" cy="924.8" r="13.6" fill="none" stroke="#FFC000" stroke-width="2.8"/>
<circle cx="1234.0" cy="940.5" r="13.6" fill="none" stroke="#FFC000" stroke-width="2.8"/>
<circle cx="1315.5" cy="931.4" r="13.6" fill="none" stroke="#FFC000" stroke-width="2.8"/>
<circle cx="1411.2" cy="926.0" r="13.6" fill="none" stroke="#FFC000" stroke-width="2.8"/>
<circle cx="1503.8" cy="1003.2" r="13.6" fill="none" stroke="#FFC000" stroke-width="2.8"/>
<circle cx="1632.5" cy="861.3" r="13.6" fill="none" stroke="#FFC000" stroke-width="2.8"/>
<circle cx="1729.2" cy="941.4" r="13.6" fill="none" stroke="#FFC000" stroke-width="2.8"/>
<circle cx="1954.7" cy="880.0" r="13.6" fill="none" stroke="#FFC000" stroke-width="2.8"/>
<rect x="866.0" y="176.0" width="29" height="29" fill="#FF0000"/>
<text transform="translate(934.5,211.0) scale(1.05,1)" font-size="57.5"><tspan dy="0">ZnFe</tspan><tspan font-size="35" dy="13">2</tspan><tspan dy="-13">O</tspan><tspan font-size="35" dy="13">4</tspan></text>
<path d="M1214.0 175.8L1228.2 190.0L1214.0 204.2L1199.8 190.0Z" fill="#00B0F0" stroke="#00B0F0" stroke-width="1.6" stroke-linejoin="round"/>
<text transform="translate(1265.0,211.0) scale(1.03,1)" font-size="57.5"><tspan dy="0">CaFe</tspan><tspan font-size="35" dy="13">2</tspan><tspan dy="-13">O</tspan><tspan font-size="35" dy="13">4</tspan></text>
<path d="M1518.0 175.5L1533.0 205.5L1503.0 205.5Z" fill="#00B050"/>
<text transform="translate(1571.0,211.0) scale(1.024,1)" font-size="57.5"><tspan dy="0">Fe</tspan><tspan font-size="35" dy="13">3</tspan><tspan dy="-13">O</tspan><tspan font-size="35" dy="13">4</tspan></text>
<circle cx="1766.0" cy="190.5" r="13.6" fill="none" stroke="#FFC000" stroke-width="2.8"/>
<text transform="translate(1818.0,211.0) scale(1.022,1)" font-size="57.5"><tspan dy="0">PbSO</tspan><tspan font-size="35" dy="13">4</tspan></text>
<text transform="translate(63.4,543) rotate(-90)" font-size="58.8" font-weight="bold" text-anchor="middle">Intensity, counts</text>
<text x="1140.8" y="1242.6" font-size="59" text-anchor="middle" font-weight="bold" >2theta angle, deg</text>
<text x="1072" y="1387.5" font-size="72" text-anchor="middle">(<tspan font-weight="bold">a</tspan>)</text>
<g stroke="#000" fill="none" stroke-linecap="butt">
<line x1="2378.0" y1="43.0" x2="2378.0" y2="1087.0" stroke-width="4"/>
<line x1="4224.0" y1="43.0" x2="4224.0" y2="1087.0" stroke-width="4"/>
<line x1="2376.0" y1="44.5" x2="4226.0" y2="44.5" stroke-width="3"/>
<line x1="2376.0" y1="1085.5" x2="4226.0" y2="1085.5" stroke-width="3"/>
<line x1="2361.0" y1="1085.5" x2="2378.0" y2="1085.5" stroke-width="3"/>
<line x1="2361.0" y1="981.5" x2="2378.0" y2="981.5" stroke-width="3"/>
<line x1="2361.0" y1="877.5" x2="2378.0" y2="877.5" stroke-width="3"/>
<line x1="2361.0" y1="773.5" x2="2378.0" y2="773.5" stroke-width="3"/>
<line x1="2361.0" y1="669.5" x2="2378.0" y2="669.5" stroke-width="3"/>
<line x1="2361.0" y1="565.5" x2="2378.0" y2="565.5" stroke-width="3"/>
<line x1="2361.0" y1="460.5" x2="2378.0" y2="460.5" stroke-width="3"/>
<line x1="2361.0" y1="356.5" x2="2378.0" y2="356.5" stroke-width="3"/>
<line x1="2361.0" y1="252.5" x2="2378.0" y2="252.5" stroke-width="3"/>
<line x1="2361.0" y1="148.5" x2="2378.0" y2="148.5" stroke-width="3"/>
<line x1="2361.0" y1="44.5" x2="2378.0" y2="44.5" stroke-width="3"/>
<line x1="2378.5" y1="1085.5" x2="2378.5" y2="1103" stroke-width="3"/>
<line x1="2419.5" y1="1085.5" x2="2419.5" y2="1098" stroke-width="3"/>
<line x1="2460.5" y1="1085.5" x2="2460.5" y2="1098" stroke-width="3"/>
<line x1="2501.5" y1="1085.5" x2="2501.5" y2="1098" stroke-width="3"/>
<line x1="2542.5" y1="1085.5" x2="2542.5" y2="1098" stroke-width="3"/>
<line x1="2583.5" y1="1085.5" x2="2583.5" y2="1103" stroke-width="3"/>
<line x1="2624.5" y1="1085.5" x2="2624.5" y2="1098" stroke-width="3"/>
<line x1="2665.5" y1="1085.5" x2="2665.5" y2="1098" stroke-width="3"/>
<line x1="2706.5" y1="1085.5" x2="2706.5" y2="1098" stroke-width="3"/>
<line x1="2747.5" y1="1085.5" x2="2747.5" y2="1098" stroke-width="3"/>
<line x1="2788.5" y1="1085.5" x2="2788.5" y2="1103" stroke-width="3"/>
<line x1="2829.5" y1="1085.5" x2="2829.5" y2="1098" stroke-width="3"/>
<line x1="2870.5" y1="1085.5" x2="2870.5" y2="1098" stroke-width="3"/>
<line x1="2911.5" y1="1085.5" x2="2911.5" y2="1098" stroke-width="3"/>
<line x1="2952.5" y1="1085.5" x2="2952.5" y2="1098" stroke-width="3"/>
<line x1="2993.5" y1="1085.5" x2="2993.5" y2="1103" stroke-width="3"/>
<line x1="3034.5" y1="1085.5" x2="3034.5" y2="1098" stroke-width="3"/>
<line x1="3075.5" y1="1085.5" x2="3075.5" y2="1098" stroke-width="3"/>
<line x1="3116.5" y1="1085.5" x2="3116.5" y2="1098" stroke-width="3"/>
<line x1="3157.5" y1="1085.5" x2="3157.5" y2="1098" stroke-width="3"/>
<line x1="3198.5" y1="1085.5" x2="3198.5" y2="1103" stroke-width="3"/>
<line x1="3239.5" y1="1085.5" x2="3239.5" y2="1098" stroke-width="3"/>
<line x1="3280.5" y1="1085.5" x2="3280.5" y2="1098" stroke-width="3"/>
<line x1="3321.5" y1="1085.5" x2="3321.5" y2="1098" stroke-width="3"/>
<line x1="3362.5" y1="1085.5" x2="3362.5" y2="1098" stroke-width="3"/>
<line x1="3403.5" y1="1085.5" x2="3403.5" y2="1103" stroke-width="3"/>
<line x1="3444.5" y1="1085.5" x2="3444.5" y2="1098" stroke-width="3"/>
<line x1="3486.5" y1="1085.5" x2="3486.5" y2="1098" stroke-width="3"/>
<line x1="3527.5" y1="1085.5" x2="3527.5" y2="1098" stroke-width="3"/>
<line x1="3568.5" y1="1085.5" x2="3568.5" y2="1098" stroke-width="3"/>
<line x1="3609.5" y1="1085.5" x2="3609.5" y2="1103" stroke-width="3"/>
<line x1="3650.5" y1="1085.5" x2="3650.5" y2="1098" stroke-width="3"/>
<line x1="3691.5" y1="1085.5" x2="3691.5" y2="1098" stroke-width="3"/>
<line x1="3732.5" y1="1085.5" x2="3732.5" y2="1098" stroke-width="3"/>
<line x1="3773.5" y1="1085.5" x2="3773.5" y2="1098" stroke-width="3"/>
<line x1="3814.5" y1="1085.5" x2="3814.5" y2="1103" stroke-width="3"/>
<line x1="3855.5" y1="1085.5" x2="3855.5" y2="1098" stroke-width="3"/>
<line x1="3896.5" y1="1085.5" x2="3896.5" y2="1098" stroke-width="3"/>
<line x1="3937.5" y1="1085.5" x2="3937.5" y2="1098" stroke-width="3"/>
<line x1="3978.5" y1="1085.5" x2="3978.5" y2="1098" stroke-width="3"/>
<line x1="4019.5" y1="1085.5" x2="4019.5" y2="1103" stroke-width="3"/>
<line x1="4060.5" y1="1085.5" x2="4060.5" y2="1098" stroke-width="3"/>
<line x1="4101.5" y1="1085.5" x2="4101.5" y2="1098" stroke-width="3"/>
<line x1="4142.5" y1="1085.5" x2="4142.5" y2="1098" stroke-width="3"/>
<line x1="4183.5" y1="1085.5" x2="4183.5" y2="1098" stroke-width="3"/>
<line x1="4224.5" y1="1085.5" x2="4224.5" y2="1103" stroke-width="3"/>
</g>
<text x="2330.5" y="1101.0" font-size="48" text-anchor="end" >0</text>
<text x="2330.5" y="996.9" font-size="48" text-anchor="end" >50</text>
<text x="2330.5" y="892.8" font-size="48" text-anchor="end" >100</text>
<text x="2330.5" y="788.7" font-size="48" text-anchor="end" >150</text>
<text x="2330.5" y="684.6" font-size="48" text-anchor="end" >200</text>
<text x="2330.5" y="580.5" font-size="48" text-anchor="end" >250</text>
<text x="2330.5" y="476.4" font-size="48" text-anchor="end" >300</text>
<text x="2330.5" y="372.3" font-size="48" text-anchor="end" >350</text>
<text x="2330.5" y="268.2" font-size="48" text-anchor="end" >400</text>
<text x="2330.5" y="164.1" font-size="48" text-anchor="end" >450</text>
<text x="2330.5" y="60.0" font-size="48" text-anchor="end" >500</text>
<text x="2378.3" y="1168.0" font-size="48" text-anchor="middle" >20</text>
<text x="2583.4" y="1168.0" font-size="48" text-anchor="middle" >30</text>
<text x="2788.6" y="1168.0" font-size="48" text-anchor="middle" >40</text>
<text x="2993.7" y="1168.0" font-size="48" text-anchor="middle" >50</text>
<text x="3198.8" y="1168.0" font-size="48" text-anchor="middle" >60</text>
<text x="3404.0" y="1168.0" font-size="48" text-anchor="middle" >70</text>
<text x="3609.1" y="1168.0" font-size="48" text-anchor="middle" >80</text>
<text x="3814.2" y="1168.0" font-size="48" text-anchor="middle" >90</text>
<text x="4019.3" y="1168.0" font-size="48" text-anchor="middle" >100</text>
<text x="4224.5" y="1168.0" font-size="48" text-anchor="middle" >110</text>
<polyline points="2378.3,1085.3 2379.3,1085.3 2380.4,1085.3 2381.4,1085.3 2382.4,1085.3 2383.4,1085.3 2384.5,1085.3 2385.5,1085.3 2386.5,1085.3 2387.5,1085.3 2388.6,1085.3 2389.6,1085.3 2390.6,1085.3 2391.6,1085.3 2392.7,1085.3 2393.7,1085.3 2394.7,1085.3 2395.7,1085.3 2396.8,1085.3 2397.8,1085.3 2398.8,1085.3 2399.8,1085.3 2400.9,1085.3 2401.9,1085.3 2402.9,1085.3 2403.9,1085.2 2405.0,1085.2 2406.0,1085.2 2407.0,1085.2 2408.0,1085.2 2409.1,1085.2 2410.1,1085.2 2411.1,1085.2 2412.1,1085.2 2413.2,1085.2 2414.2,1085.2 2415.2,1085.2 2416.2,1085.2 2417.3,1085.2 2418.3,1085.2 2419.3,1085.2 2420.4,1085.2 2421.4,1085.2 2422.4,1085.2 2423.4,1085.2 2424.5,1085.2 2425.5,1085.2 2426.5,1085.2 2427.5,1085.2 2428.6,1085.2 2429.6,1085.2 2430.6,1085.2 2431.6,1085.2 2432.7,1085.2 2433.7,1085.2 2434.7,1085.2 2435.7,1085.2 2436.8,1085.2 2437.8,1085.2 2438.8,1085.2 2439.8,1085.2 2440.9,1085.2 2441.9,1085.1 2442.9,1085.1 2443.9,1085.1 2445.0,1085.1 2446.0,1085.1 2447.0,1085.1 2448.0,1085.1 2449.1,1085.1 2450.1,1085.1 2451.1,1085.1 2452.1,1085.1 2453.2,1085.1 2454.2,1085.1 2455.2,1085.1 2456.2,1085.1 2457.3,1085.1 2458.3,1085.1 2459.3,1085.1 2460.4,1085.1 2461.4,1085.1 2462.4,1085.1 2463.4,1085.1 2464.5,1085.0 2465.5,1085.0 2466.5,1085.0 2467.5,1085.0 2468.6,1085.0 2469.6,1085.0 2470.6,1085.0 2471.6,1085.0 2472.7,1085.0 2473.7,1085.0 2474.7,1085.0 2475.7,1085.0 2476.8,1085.0 2477.8,1084.9 2478.8,1084.9 2479.8,1084.9 2480.9,1084.9 2481.9,1084.9 2482.9,1084.9 2483.9,1084.9 2485.0,1084.9 2486.0,1084.9 2487.0,1084.8 2488.0,1084.8 2489.1,1084.8 2490.1,1084.8 2491.1,1084.8 2492.1,1084.7 2493.2,1084.7 2494.2,1084.7 2495.2,1084.7 2496.2,1084.6 2497.3,1084.6 2498.3,1084.5 2499.3,1084.5 2500.4,1084.4 2501.4,1084.4 2502.4,1084.3 2503.4,1084.2 2504.5,1084.1 2505.5,1083.9 2506.5,1083.5 2507.5,1082.9 2508.6,1081.8 2509.6,1079.6 2510.6,1075.9 2511.6,1070.5 2512.7,1064.2 2513.7,1058.7 2514.7,1056.4 2515.7,1058.6 2516.8,1064.2 2517.8,1070.4 2518.8,1075.7 2519.8,1079.4 2520.9,1081.5 2521.9,1082.7 2522.9,1083.2 2523.9,1083.5 2525.0,1083.6 2526.0,1083.7 2527.0,1083.8 2528.0,1083.8 2529.1,1083.8 2530.1,1083.8 2531.1,1083.8 2532.1,1083.7 2533.2,1083.7 2534.2,1083.7 2535.2,1083.6 2536.3,1083.5 2537.3,1083.4 2538.3,1083.3 2539.3,1083.0 2540.4,1082.7 2541.4,1082.3 2542.4,1081.6 2543.4,1080.7 2544.5,1079.6 2545.5,1078.1 2546.5,1076.3 2547.5,1074.4 2548.6,1072.4 2549.6,1070.7 2550.6,1069.4 2551.6,1068.8 2552.7,1069.1 2553.7,1070.2 2554.7,1071.7 2555.7,1073.4 2556.8,1075.1 2557.8,1076.6 2558.8,1077.7 2559.8,1078.6 2560.9,1079.1 2561.9,1079.4 2562.9,1079.4 2563.9,1079.2 2565.0,1078.9 2566.0,1078.3 2567.0,1077.7 2568.0,1076.8 2569.1,1075.8 2570.1,1074.5 2571.1,1072.8 2572.1,1070.6 2573.2,1067.8 2574.2,1064.1 2575.2,1058.9 2576.3,1051.5 2577.3,1040.5 2578.3,1023.5 2579.3,995.9 2580.4,949.7 2581.4,875.6 2582.4,790.9 2583.0,770.1 2583.4,779.7 2584.5,857.7 2585.5,937.1 2586.5,988.3 2587.5,1018.8 2588.6,1037.4 2589.6,1049.2 2590.6,1057.1 2591.6,1062.6 2592.7,1066.5 2593.7,1069.3 2594.7,1071.3 2595.7,1072.4 2596.8,1071.9 2597.8,1068.7 2598.8,1063.3 2599.8,1060.5 2600.9,1064.6 2601.9,1071.3 2602.9,1075.9 2603.9,1078.1 2605.0,1078.9 2606.0,1079.3 2607.0,1079.5 2608.0,1079.7 2609.1,1079.7 2610.1,1079.6 2611.1,1079.4 2612.1,1078.8 2613.2,1077.8 2614.2,1075.9 2615.2,1072.8 2616.3,1068.1 2617.3,1061.7 2618.3,1054.0 2619.3,1046.2 2620.4,1040.0 2621.4,1037.6 2622.4,1040.0 2623.4,1046.1 2624.5,1053.9 2625.5,1061.6 2626.5,1068.0 2627.5,1072.7 2628.6,1075.8 2629.6,1077.7 2630.6,1078.8 2631.6,1079.3 2632.7,1079.6 2633.7,1079.8 2634.7,1079.8 2635.7,1079.8 2636.8,1079.8 2637.8,1079.8 2638.8,1079.7 2639.8,1079.6 2640.9,1079.5 2641.9,1079.3 2642.9,1079.2 2643.9,1079.0 2645.0,1078.8 2646.0,1078.6 2647.0,1078.3 2648.0,1078.1 2649.1,1077.8 2650.1,1077.5 2651.1,1077.2 2652.1,1076.8 2653.2,1076.4 2654.2,1076.0 2655.2,1075.5 2656.3,1075.1 2657.3,1074.5 2658.3,1073.9 2659.3,1073.3 2660.4,1072.6 2661.4,1071.9 2662.4,1071.1 2663.4,1070.2 2664.5,1069.2 2665.5,1068.2 2666.5,1067.0 2667.5,1065.7 2668.6,1064.4 2669.6,1062.8 2670.6,1061.1 2671.6,1059.3 2672.7,1057.2 2673.7,1054.9 2674.7,1052.3 2675.7,1049.3 2676.8,1046.0 2677.8,1042.1 2678.8,1037.6 2679.8,1032.2 2680.9,1025.7 2681.9,1017.5 2682.9,1007.0 2683.9,993.2 2685.0,974.2 2686.0,947.1 2687.0,906.8 2688.0,844.2 2689.1,743.6 2690.1,582.6 2691.1,359.6 2692.1,193.9 2692.4,188.2 2693.2,274.7 2694.2,500.8 2695.2,691.5 2696.3,814.7 2697.3,891.1 2698.3,939.8 2699.3,972.1 2700.4,994.4 2701.4,1010.4 2702.4,1022.0 2703.4,1030.6 2704.5,1036.7 2705.5,1040.6 2706.5,1041.8 2707.5,1040.2 2708.6,1035.6 2709.6,1029.0 2710.6,1022.3 2711.6,1018.7 2712.0,1018.9 2712.7,1021.0 2713.7,1028.7 2714.7,1039.0 2715.7,1048.8 2716.8,1056.5 2717.8,1061.2 2718.8,1062.7 2719.8,1061.1 2720.9,1056.1 2721.9,1047.8 2722.9,1037.5 2723.9,1027.4 2725.0,1021.4 2725.4,1021.0 2726.0,1022.7 2727.0,1031.0 2728.0,1042.6 2729.1,1054.0 2730.1,1063.2 2731.1,1069.6 2732.1,1073.5 2733.2,1075.8 2734.2,1077.1 2735.2,1078.0 2736.3,1078.5 2737.3,1079.0 2738.3,1079.4 2739.3,1079.7 2740.4,1080.0 2741.4,1080.3 2742.4,1080.5 2743.4,1080.7 2744.5,1080.9 2745.5,1081.1 2746.5,1081.3 2747.5,1081.4 2748.6,1081.6 2749.6,1081.7 2750.6,1081.8 2751.6,1081.9 2752.7,1082.0 2753.7,1082.1 2754.7,1082.2 2755.7,1082.3 2756.8,1082.4 2757.8,1082.5 2758.8,1082.5 2759.8,1082.6 2760.9,1082.7 2761.9,1082.7 2762.9,1082.8 2763.9,1082.8 2765.0,1082.8 2766.0,1082.8 2767.0,1082.7 2768.0,1082.5 2769.1,1082.2 2770.1,1081.6 2771.1,1080.9 2772.1,1080.0 2773.2,1079.0 2774.2,1078.4 2775.2,1078.2 2776.3,1078.7 2777.3,1079.5 2778.3,1080.6 2779.3,1081.5 2780.4,1082.2 2781.4,1082.8 2782.4,1083.1 2783.4,1083.3 2784.5,1083.4 2785.5,1083.5 2786.5,1083.6 2787.5,1083.6 2788.6,1083.6 2789.6,1083.7 2790.6,1083.7 2791.6,1083.7 2792.7,1083.7 2793.7,1083.7 2794.7,1083.8 2795.7,1083.8 2796.8,1083.8 2797.8,1083.8 2798.8,1083.8 2799.8,1083.8 2800.9,1083.8 2801.9,1083.8 2802.9,1083.8 2803.9,1083.8 2805.0,1083.7 2806.0,1083.7 2807.0,1083.7 2808.0,1083.7 2809.1,1083.7 2810.1,1083.6 2811.1,1083.6 2812.1,1083.6 2813.2,1083.5 2814.2,1083.5 2815.2,1083.4 2816.3,1083.3 2817.3,1083.3 2818.3,1083.2 2819.3,1083.1 2820.4,1083.0 2821.4,1082.9 2822.4,1082.8 2823.4,1082.6 2824.5,1082.4 2825.5,1082.2 2826.5,1082.0 2827.5,1081.8 2828.6,1081.5 2829.6,1081.1 2830.6,1080.7 2831.6,1080.2 2832.7,1079.6 2833.7,1078.8 2834.7,1077.9 2835.7,1076.8 2836.8,1075.4 2837.8,1073.5 2838.8,1070.9 2839.8,1067.1 2840.9,1061.4 2841.9,1052.8 2842.9,1039.7 2843.9,1021.1 2845.0,996.7 2846.0,969.3 2847.0,948.1 2847.6,943.9 2848.0,945.8 2849.1,964.2 2850.1,991.3 2851.1,1016.7 2852.2,1036.5 2853.2,1050.6 2854.2,1060.0 2855.2,1066.2 2856.3,1070.3 2857.3,1073.1 2858.3,1075.1 2859.3,1076.6 2860.4,1077.8 2861.4,1078.8 2862.4,1079.5 2863.4,1080.1 2864.5,1080.7 2865.5,1081.1 2866.5,1081.4 2867.5,1081.7 2868.6,1082.0 2869.6,1082.1 2870.6,1082.2 2871.6,1082.2 2872.7,1082.1 2873.7,1081.8 2874.7,1081.3 2875.7,1080.6 2876.8,1079.8 2877.8,1079.1 2878.8,1078.5 2879.8,1078.2 2880.9,1078.4 2881.9,1079.1 2882.9,1079.9 2883.9,1080.9 2885.0,1081.8 2886.0,1082.5 2887.0,1083.1 2888.0,1083.5 2889.1,1083.7 2890.1,1083.9 2891.1,1084.0 2892.2,1084.1 2893.2,1084.2 2894.2,1084.2 2895.2,1084.3 2896.3,1084.3 2897.3,1084.3 2898.3,1084.4 2899.3,1084.4 2900.4,1084.4 2901.4,1084.4 2902.4,1084.5 2903.4,1084.5 2904.5,1084.5 2905.5,1084.5 2906.5,1084.5 2907.5,1084.5 2908.6,1084.5 2909.6,1084.6 2910.6,1084.6 2911.6,1084.6 2912.7,1084.6 2913.7,1084.6 2914.7,1084.6 2915.7,1084.6 2916.8,1084.6 2917.8,1084.6 2918.8,1084.6 2919.8,1084.6 2920.9,1084.5 2921.9,1084.5 2922.9,1084.5 2923.9,1084.5 2925.0,1084.4 2926.0,1084.4 2927.0,1084.3 2928.0,1084.2 2929.1,1084.0 2930.1,1083.8 2931.1,1083.6 2932.2,1083.3 2933.2,1082.9 2934.2,1082.5 2935.2,1082.0 2936.3,1081.4 2937.3,1080.8 2938.3,1080.2 2939.3,1079.6 2940.4,1079.0 2941.4,1078.6 2942.4,1078.3 2943.4,1078.2 2944.5,1078.3 2945.5,1078.6 2946.5,1079.0 2947.5,1079.6 2948.6,1080.2 2949.6,1080.8 2950.6,1081.4 2951.6,1082.0 2952.7,1082.5 2953.7,1082.9 2954.7,1083.3 2955.7,1083.6 2956.8,1083.9 2957.8,1084.1 2958.8,1084.2 2959.8,1084.3 2960.9,1084.4 2961.9,1084.5 2962.9,1084.5 2963.9,1084.6 2965.0,1084.6 2966.0,1084.6 2967.0,1084.6 2968.0,1084.6 2969.1,1084.6 2970.1,1084.7 2971.1,1084.7 2972.2,1084.7 2973.2,1084.7 2974.2,1084.7 2975.2,1084.7 2976.3,1084.7 2977.3,1084.7 2978.3,1084.7 2979.3,1084.7 2980.4,1084.7 2981.4,1084.7 2982.4,1084.7 2983.4,1084.7 2984.5,1084.7 2985.5,1084.7 2986.5,1084.7 2987.5,1084.6 2988.6,1084.6 2989.6,1084.6 2990.6,1084.6 2991.6,1084.6 2992.7,1084.6 2993.7,1084.6 2994.7,1084.6 2995.7,1084.6 2996.8,1084.6 2997.8,1084.6 2998.8,1084.6 2999.8,1084.5 3000.9,1084.5 3001.9,1084.5 3002.9,1084.5 3003.9,1084.5 3005.0,1084.5 3006.0,1084.5 3007.0,1084.4 3008.0,1084.4 3009.1,1084.4 3010.1,1084.4 3011.1,1084.4 3012.2,1084.3 3013.2,1084.3 3014.2,1084.3 3015.2,1084.3 3016.3,1084.2 3017.3,1084.2 3018.3,1084.2 3019.3,1084.1 3020.4,1084.1 3021.4,1084.1 3022.4,1084.0 3023.4,1084.0 3024.5,1083.9 3025.5,1083.9 3026.5,1083.8 3027.5,1083.7 3028.6,1083.7 3029.6,1083.6 3030.6,1083.5 3031.6,1083.4 3032.7,1083.3 3033.7,1083.2 3034.7,1083.0 3035.7,1082.9 3036.8,1082.7 3037.8,1082.5 3038.8,1082.3 3039.8,1082.0 3040.9,1081.7 3041.9,1081.4 3042.9,1081.0 3043.9,1080.5 3045.0,1079.9 3046.0,1079.1 3047.0,1078.2 3048.0,1076.9 3049.1,1075.3 3050.1,1073.2 3051.1,1070.1 3052.2,1065.7 3053.2,1059.3 3054.2,1050.1 3055.2,1037.5 3056.3,1022.3 3057.3,1008.6 3058.1,1004.3 3058.3,1004.6 3059.3,1013.3 3060.4,1028.4 3061.4,1042.7 3062.4,1053.8 3063.4,1061.7 3064.5,1067.2 3065.5,1070.9 3066.5,1073.5 3067.5,1075.3 3068.6,1076.7 3069.6,1077.7 3070.6,1078.5 3071.6,1079.0 3072.7,1079.5 3073.7,1079.8 3074.7,1080.1 3075.7,1080.2 3076.8,1080.3 3077.8,1080.3 3078.8,1080.2 3079.8,1080.0 3080.9,1079.6 3081.9,1079.2 3082.9,1078.6 3083.9,1077.9 3085.0,1077.1 3086.0,1076.3 3087.0,1075.5 3088.0,1074.8 3089.1,1074.3 3090.1,1074.0 3091.1,1074.1 3092.2,1074.3 3093.2,1074.7 3094.2,1075.3 3095.2,1075.8 3096.3,1076.3 3097.3,1076.7 3098.3,1077.0 3099.3,1077.2 3100.4,1077.2 3101.4,1077.1 3102.4,1076.8 3103.4,1076.5 3104.5,1076.0 3105.5,1075.4 3106.5,1074.7 3107.5,1073.9 3108.6,1073.0 3109.6,1071.9 3110.6,1070.6 3111.6,1069.1 3112.7,1067.4 3113.7,1065.3 3114.7,1062.9 3115.7,1060.0 3116.8,1056.4 3117.8,1052.0 3118.8,1046.7 3119.8,1039.9 3120.9,1031.3 3121.9,1020.3 3122.9,1006.1 3123.9,987.4 3125.0,963.2 3126.0,932.3 3127.0,895.4 3128.1,857.0 3129.1,827.5 3129.9,819.0 3130.1,819.5 3131.1,837.3 3132.2,872.0 3133.2,910.7 3134.2,945.4 3135.2,973.6 3136.3,995.4 3137.3,1012.2 3138.3,1025.0 3139.3,1034.9 3140.4,1042.7 3141.4,1048.9 3142.4,1053.8 3143.4,1057.8 3144.5,1061.1 3145.5,1063.8 3146.5,1066.1 3147.5,1068.0 3148.6,1069.6 3149.6,1071.0 3150.6,1072.2 3151.6,1073.3 3152.7,1074.2 3153.7,1075.0 3154.7,1075.7 3155.7,1076.3 3156.8,1076.8 3157.8,1077.3 3158.8,1077.8 3159.8,1078.2 3160.9,1078.5 3161.9,1078.8 3162.9,1079.1 3163.9,1079.3 3165.0,1079.6 3166.0,1079.8 3167.0,1080.0 3168.1,1080.1 3169.1,1080.3 3170.1,1080.4 3171.1,1080.5 3172.2,1080.6 3173.2,1080.7 3174.2,1080.8 3175.2,1080.9 3176.3,1080.9 3177.3,1081.0 3178.3,1081.0 3179.3,1081.0 3180.4,1081.1 3181.4,1081.1 3182.4,1081.1 3183.4,1081.1 3184.5,1081.1 3185.5,1081.1 3186.5,1081.0 3187.5,1081.0 3188.6,1080.9 3189.6,1080.9 3190.6,1080.8 3191.6,1080.8 3192.7,1080.7 3193.7,1080.6 3194.7,1080.5 3195.7,1080.4 3196.8,1080.3 3197.8,1080.1 3198.8,1080.0 3199.8,1079.8 3200.9,1079.7 3201.9,1079.5 3202.9,1079.3 3203.9,1079.0 3205.0,1078.8 3206.0,1078.5 3207.0,1078.2 3208.1,1077.9 3209.1,1077.6 3210.1,1077.2 3211.1,1076.8 3212.2,1076.3 3213.2,1075.8 3214.2,1075.2 3215.2,1074.6 3216.3,1073.9 3217.3,1073.2 3218.3,1072.3 3219.3,1071.4 3220.4,1070.3 3221.4,1069.1 3222.4,1067.7 3223.4,1066.2 3224.5,1064.4 3225.5,1062.3 3226.5,1059.8 3227.5,1056.8 3228.6,1053.1 3229.6,1048.6 3230.6,1042.9 3231.6,1035.7 3232.7,1026.6 3233.7,1015.2 3234.7,1001.1 3235.7,983.7 3236.8,962.7 3237.8,938.2 3238.8,910.1 3239.8,879.3 3240.9,847.4 3241.9,817.2 3242.9,792.5 3243.9,777.8 3244.6,775.3 3245.0,776.4 3246.0,788.6 3247.0,811.7 3248.1,841.2 3249.1,873.0 3250.1,904.2 3251.1,932.9 3252.2,958.2 3253.2,979.9 3254.2,998.0 3255.2,1012.8 3256.3,1024.7 3257.3,1034.2 3258.3,1041.8 3259.3,1047.8 3260.4,1052.5 3261.4,1056.4 3262.4,1059.5 3263.4,1062.1 3264.5,1064.3 3265.5,1066.2 3266.5,1067.8 3267.5,1069.2 3268.6,1070.4 3269.6,1071.6 3270.6,1072.6 3271.6,1073.4 3272.7,1074.2 3273.7,1075.0 3274.7,1075.6 3275.7,1076.2 3276.8,1076.7 3277.8,1077.2 3278.8,1077.7 3279.8,1078.1 3280.9,1078.5 3281.9,1078.8 3282.9,1079.2 3283.9,1079.5 3285.0,1079.8 3286.0,1080.0 3287.0,1080.3 3288.1,1080.5 3289.1,1080.7 3290.1,1080.9 3291.1,1081.1 3292.2,1081.2 3293.2,1081.4 3294.2,1081.6 3295.2,1081.7 3296.3,1081.8 3297.3,1082.0 3298.3,1082.1 3299.3,1082.2 3300.4,1082.3 3301.4,1082.4 3302.4,1082.5 3303.4,1082.6 3304.5,1082.7 3305.5,1082.8 3306.5,1082.9 3307.5,1082.9 3308.6,1083.0 3309.6,1083.1 3310.6,1083.1 3311.6,1083.2 3312.7,1083.3 3313.7,1083.3 3314.7,1083.4 3315.7,1083.4 3316.8,1083.5 3317.8,1083.5 3318.8,1083.5 3319.8,1083.6 3320.9,1083.6 3321.9,1083.7 3322.9,1083.7 3323.9,1083.7 3325.0,1083.8 3326.0,1083.8 3327.0,1083.8 3328.1,1083.9 3329.1,1083.9 3330.1,1083.9 3331.1,1083.9 3332.2,1083.9 3333.2,1084.0 3334.2,1084.0 3335.2,1084.0 3336.3,1084.0 3337.3,1084.0 3338.3,1084.0 3339.3,1084.0 3340.4,1084.0 3341.4,1084.0 3342.4,1083.9 3343.4,1083.9 3344.5,1083.8 3345.5,1083.7 3346.5,1083.6 3347.5,1083.4 3348.6,1083.2 3349.6,1082.9 3350.6,1082.6 3351.6,1082.2 3352.7,1081.7 3353.7,1081.2 3354.7,1080.7 3355.7,1080.1 3356.8,1079.5 3357.8,1078.8 3358.8,1078.3 3359.8,1077.8 3360.9,1077.4 3361.9,1077.2 3362.9,1077.2 3363.9,1077.3 3365.0,1077.6 3366.0,1078.0 3367.0,1078.6 3368.1,1079.2 3369.1,1079.8 3370.1,1080.4 3371.1,1081.0 3372.2,1081.6 3373.2,1082.1 3374.2,1082.6 3375.2,1083.0 3376.3,1083.3 3377.3,1083.6 3378.3,1083.8 3379.3,1083.9 3380.4,1084.1 3381.4,1084.2 3382.4,1084.3 3383.4,1084.3 3384.5,1084.4 3385.5,1084.4 3386.5,1084.4 3387.5,1084.4 3388.6,1084.4 3389.6,1084.4 3390.6,1084.4 3391.6,1084.4 3392.7,1084.4 3393.7,1084.4 3394.7,1084.4 3395.7,1084.4 3396.8,1084.3 3397.8,1084.3 3398.8,1084.2 3399.8,1084.2 3400.9,1084.1 3401.9,1083.9 3402.9,1083.7 3404.0,1083.4 3405.0,1082.8 3406.0,1082.0 3407.0,1080.9 3408.1,1079.4 3409.1,1077.4 3410.1,1074.9 3411.1,1072.1 3412.2,1069.2 3413.2,1066.5 3414.2,1064.3 3415.2,1063.1 3416.3,1063.3 3417.3,1064.7 3418.3,1067.0 3419.3,1069.8 3420.4,1072.7 3421.4,1075.5 3422.4,1077.9 3423.4,1079.8 3424.5,1081.2 3425.5,1082.3 3426.5,1083.0 3427.5,1083.5 3428.6,1083.8 3429.6,1084.1 3430.6,1084.2 3431.6,1084.3 3432.7,1084.4 3433.7,1084.4 3434.7,1084.5 3435.7,1084.5 3436.8,1084.6 3437.8,1084.6 3438.8,1084.6 3439.8,1084.6 3440.9,1084.6 3441.9,1084.6 3442.9,1084.7 3444.0,1084.7 3445.0,1084.7 3446.0,1084.7 3447.0,1084.7 3448.1,1084.6 3449.1,1084.6 3450.1,1084.6 3451.1,1084.6 3452.2,1084.6 3453.2,1084.5 3454.2,1084.5 3455.2,1084.5 3456.3,1084.4 3457.3,1084.4 3458.3,1084.3 3459.3,1084.2 3460.4,1084.0 3461.4,1083.8 3462.4,1083.2 3463.4,1082.3 3464.5,1081.1 3465.5,1079.9 3466.5,1079.2 3467.5,1079.2 3468.6,1079.2 3469.6,1078.4 3470.6,1076.2 3471.6,1072.3 3472.7,1066.7 3473.7,1059.6 3474.7,1051.5 3475.7,1043.7 3476.8,1037.8 3477.8,1035.5 3478.8,1037.8 3479.8,1043.6 3480.9,1051.4 3481.9,1059.4 3482.9,1066.6 3484.0,1072.2 3485.0,1076.3 3486.0,1078.9 3487.0,1080.4 3488.1,1081.0 3489.1,1081.0 3490.1,1080.3 3491.1,1078.8 3492.2,1076.7 3493.2,1073.8 3494.2,1070.4 3495.2,1067.1 3496.3,1064.3 3497.3,1063.0 3498.3,1063.7 3499.3,1066.1 3500.4,1069.4 3501.4,1073.0 3502.4,1076.3 3503.4,1079.0 3504.5,1081.0 3505.5,1082.3 3506.5,1083.2 3507.5,1083.7 3508.6,1084.0 3509.6,1084.2 3510.6,1084.4 3511.6,1084.5 3512.7,1084.6 3513.7,1084.6 3514.7,1084.7 3515.7,1084.7 3516.8,1084.8 3517.8,1084.8 3518.8,1084.8 3519.8,1084.9 3520.9,1084.9 3521.9,1084.9 3522.9,1084.9 3524.0,1084.9 3525.0,1085.0 3526.0,1085.0 3527.0,1085.0 3528.1,1085.0 3529.1,1085.0 3530.1,1085.0 3531.1,1085.0 3532.2,1085.0 3533.2,1085.0 3534.2,1085.0 3535.2,1085.0 3536.3,1085.0 3537.3,1084.9 3538.3,1084.9 3539.3,1084.7 3540.4,1084.5 3541.4,1084.3 3542.4,1083.9 3543.4,1083.5 3544.5,1083.1 3545.5,1082.7 3546.5,1082.4 3547.5,1082.4 3548.6,1082.6 3549.6,1083.0 3550.6,1083.4 3551.6,1083.8 3552.7,1084.2 3553.7,1084.5 3554.7,1084.7 3555.7,1084.8 3556.8,1084.9 3557.8,1085.0 3558.8,1085.0 3559.8,1085.0 3560.9,1085.0 3561.9,1085.0 3562.9,1084.9 3564.0,1084.9 3565.0,1084.9 3566.0,1084.8 3567.0,1084.8 3568.1,1084.6 3569.1,1084.4 3570.1,1084.0 3571.1,1083.4 3572.2,1082.5 3573.2,1081.1 3574.2,1079.3 3575.2,1077.2 3576.3,1075.0 3577.3,1073.3 3578.3,1072.4 3579.3,1072.8 3580.4,1074.3 3581.4,1076.3 3582.4,1078.5 3583.4,1080.5 3584.5,1082.0 3585.5,1083.1 3586.5,1083.9 3587.5,1084.3 3588.6,1084.6 3589.6,1084.8 3590.6,1084.9 3591.6,1084.9 3592.7,1085.0 3593.7,1085.0 3594.7,1085.1 3595.7,1085.1 3596.8,1085.1 3597.8,1085.1 3598.8,1085.1 3599.8,1085.2 3600.9,1085.2 3601.9,1085.2 3602.9,1085.2 3604.0,1085.2 3605.0,1085.2 3606.0,1085.2 3607.0,1085.2 3608.1,1085.2 3609.1,1085.2 3610.1,1085.2 3611.1,1085.2 3612.2,1085.2 3613.2,1085.3 3614.2,1085.3 3615.2,1085.3 3616.3,1085.3 3617.3,1085.3 3618.3,1085.3 3619.3,1085.3 3620.4,1085.3 3621.4,1085.3 3622.4,1085.3 3623.4,1085.3 3624.5,1085.3 3625.5,1085.3 3626.5,1085.3 3627.5,1085.3 3628.6,1085.3 3629.6,1085.3 3630.6,1085.3 3631.6,1085.3 3632.7,1085.3 3633.7,1085.3 3634.7,1085.3 3635.7,1085.3 3636.8,1085.3 3637.8,1085.3 3638.8,1085.3 3639.8,1085.3 3640.9,1085.3 3641.9,1085.3 3642.9,1085.3 3644.0,1085.3 3645.0,1085.3 3646.0,1085.3 3647.0,1085.3 3648.1,1085.3 3649.1,1085.3 3650.1,1085.3 3651.1,1085.3 3652.2,1085.3 3653.2,1085.3 3654.2,1085.3 3655.2,1085.3 3656.3,1085.3 3657.3,1085.3 3658.3,1085.3 3659.3,1085.3 3660.4,1085.3 3661.4,1085.3 3662.4,1085.3 3663.4,1085.3 3664.5,1085.3 3665.5,1085.3 3666.5,1085.3 3667.5,1085.3 3668.6,1085.3 3669.6,1085.3 3670.6,1085.3 3671.6,1085.3 3672.7,1085.3 3673.7,1085.3 3674.7,1085.3 3675.7,1085.3 3676.8,1085.3 3677.8,1085.3 3678.8,1085.3 3679.8,1085.3 3680.9,1085.2 3681.9,1085.2 3682.9,1085.2 3684.0,1085.2 3685.0,1085.2 3686.0,1085.2 3687.0,1085.2 3688.1,1085.2 3689.1,1085.2 3690.1,1085.2 3691.1,1085.2 3692.2,1085.2 3693.2,1085.2 3694.2,1085.2 3695.2,1085.2 3696.3,1085.2 3697.3,1085.2 3698.3,1085.2 3699.3,1085.2 3700.4,1085.2 3701.4,1085.2 3702.4,1085.1 3703.4,1085.1 3704.5,1085.1 3705.5,1085.1 3706.5,1085.1 3707.5,1085.1 3708.6,1085.1 3709.6,1085.1 3710.6,1085.0 3711.6,1085.0 3712.7,1085.0 3713.7,1085.0 3714.7,1085.0 3715.7,1084.9 3716.8,1084.9 3717.8,1084.9 3718.8,1084.8 3719.9,1084.8 3720.9,1084.7 3721.9,1084.6 3722.9,1084.5 3724.0,1084.4 3725.0,1084.3 3726.0,1084.0 3727.0,1083.6 3728.1,1082.8 3729.1,1081.6 3730.1,1079.7 3731.1,1076.9 3732.2,1073.2 3733.2,1068.9 3734.2,1064.5 3735.2,1061.2 3736.3,1059.9 3737.3,1060.3 3738.3,1061.6 3739.3,1063.6 3740.4,1065.9 3741.4,1068.4 3742.4,1070.9 3743.4,1073.3 3744.5,1075.4 3745.5,1077.2 3746.5,1078.7 3747.5,1080.0 3748.6,1081.0 3749.6,1081.7 3750.6,1082.3 3751.6,1082.7 3752.7,1083.0 3753.7,1083.2 3754.7,1083.4 3755.7,1083.5 3756.8,1083.5 3757.8,1083.6 3758.8,1083.6 3759.9,1083.6 3760.9,1083.6 3761.9,1083.6 3762.9,1083.6 3764.0,1083.6 3765.0,1083.5 3766.0,1083.5 3767.0,1083.4 3768.1,1083.3 3769.1,1083.2 3770.1,1083.1 3771.1,1082.9 3772.2,1082.8 3773.2,1082.6 3774.2,1082.4 3775.2,1082.1 3776.3,1081.8 3777.3,1081.4 3778.3,1080.9 3779.3,1080.2 3780.4,1079.4 3781.4,1078.2 3782.4,1076.6 3783.4,1074.6 3784.5,1071.8 3785.5,1068.2 3786.5,1063.7 3787.5,1058.2 3788.6,1051.8 3789.6,1044.6 3790.6,1037.0 3791.6,1029.5 3792.7,1023.0 3793.7,1018.4 3794.7,1016.8 3795.7,1018.4 3796.8,1023.0 3797.8,1029.5 3798.8,1037.0 3799.9,1044.7 3800.9,1051.9 3801.9,1058.3 3802.9,1063.8 3804.0,1068.3 3805.0,1071.9 3806.0,1074.7 3807.0,1076.7 3808.1,1078.3 3809.1,1079.5 3810.1,1080.4 3811.1,1081.0 3812.2,1081.5 3813.2,1081.9 3814.2,1082.3 3815.2,1082.6 3816.3,1082.8 3817.3,1083.0 3818.3,1083.2 3819.3,1083.4 3820.4,1083.5 3821.4,1083.6 3822.4,1083.7 3823.4,1083.8 3824.5,1083.9 3825.5,1084.0 3826.5,1084.1 3827.5,1084.2 3828.6,1084.2 3829.6,1084.3 3830.6,1084.3 3831.6,1084.4 3832.7,1084.4 3833.7,1084.5 3834.7,1084.5 3835.7,1084.5 3836.8,1084.6 3837.8,1084.6 3838.8,1084.6 3839.9,1084.6 3840.9,1084.7 3841.9,1084.7 3842.9,1084.7 3844.0,1084.7 3845.0,1084.7 3846.0,1084.7 3847.0,1084.8 3848.1,1084.8 3849.1,1084.8 3850.1,1084.8 3851.1,1084.8 3852.2,1084.8 3853.2,1084.8 3854.2,1084.8 3855.2,1084.8 3856.3,1084.8 3857.3,1084.8 3858.3,1084.8 3859.3,1084.8 3860.4,1084.7 3861.4,1084.7 3862.4,1084.7 3863.4,1084.7 3864.5,1084.7 3865.5,1084.6 3866.5,1084.6 3867.5,1084.6 3868.6,1084.5 3869.6,1084.5 3870.6,1084.4 3871.6,1084.4 3872.7,1084.3 3873.7,1084.2 3874.7,1084.1 3875.7,1083.9 3876.8,1083.7 3877.8,1083.4 3878.8,1083.0 3879.9,1082.5 3880.9,1081.8 3881.9,1080.8 3882.9,1079.6 3884.0,1078.0 3885.0,1076.1 3886.0,1073.9 3887.0,1071.4 3888.1,1068.8 3889.1,1066.1 3890.1,1063.6 3891.1,1061.5 3892.2,1060.2 3893.2,1059.9 3894.2,1060.6 3895.2,1062.3 3896.3,1064.6 3897.3,1067.2 3898.3,1069.9 3899.3,1072.5 3900.4,1074.9 3901.4,1077.0 3902.4,1078.7 3903.4,1080.2 3904.5,1081.3 3905.5,1082.1 3906.5,1082.8 3907.5,1083.3 3908.6,1083.6 3909.6,1083.9 3910.6,1084.1 3911.6,1084.2 3912.7,1084.3 3913.7,1084.4 3914.7,1084.5 3915.7,1084.6 3916.8,1084.7 3917.8,1084.7 3918.8,1084.8 3919.9,1084.8 3920.9,1084.8 3921.9,1084.9 3922.9,1084.9 3924.0,1084.9 3925.0,1085.0 3926.0,1085.0 3927.0,1085.0 3928.1,1085.0 3929.1,1085.0 3930.1,1085.1 3931.1,1085.1 3932.2,1085.1 3933.2,1085.1 3934.2,1085.1 3935.2,1085.1 3936.3,1085.1 3937.3,1085.2 3938.3,1085.2 3939.3,1085.2 3940.4,1085.2 3941.4,1085.2 3942.4,1085.2 3943.4,1085.2 3944.5,1085.2 3945.5,1085.2 3946.5,1085.2 3947.5,1085.2 3948.6,1085.2 3949.6,1085.2 3950.6,1085.2 3951.6,1085.3 3952.7,1085.3 3953.7,1085.3 3954.7,1085.3 3955.7,1085.3 3956.8,1085.3 3957.8,1085.3 3958.8,1085.3 3959.9,1085.3 3960.9,1085.3 3961.9,1085.3 3962.9,1085.3 3964.0,1085.3 3965.0,1085.3 3966.0,1085.3 3967.0,1085.3 3968.1,1085.3 3969.1,1085.3 3970.1,1085.3 3971.1,1085.3 3972.2,1085.3 3973.2,1085.3 3974.2,1085.3 3975.2,1085.3 3976.3,1085.3 3977.3,1085.3 3978.3,1085.3 3979.3,1085.3 3980.4,1085.3 3981.4,1085.3 3982.4,1085.3 3983.4,1085.3 3984.5,1085.3 3985.5,1085.3 3986.5,1085.3 3987.5,1085.3 3988.6,1085.3 3989.6,1085.3 3990.6,1085.3 3991.6,1085.3 3992.7,1085.3 3993.7,1085.3 3994.7,1085.3 3995.8,1085.3 3996.8,1085.3 3997.8,1085.3 3998.8,1085.3 3999.9,1085.3 4000.9,1085.3 4001.9,1085.3 4002.9,1085.3 4004.0,1085.3 4005.0,1085.3 4006.0,1085.3 4007.0,1085.3 4008.1,1085.3 4009.1,1085.3 4010.1,1085.3 4011.1,1085.3 4012.2,1085.3 4013.2,1085.3 4014.2,1085.3 4015.2,1085.3 4016.3,1085.3 4017.3,1085.3 4018.3,1085.3 4019.3,1085.3 4020.4,1085.2 4021.4,1085.2 4022.4,1085.2 4023.4,1085.2 4024.5,1085.2 4025.5,1085.2 4026.5,1085.2 4027.5,1085.2 4028.6,1085.1 4029.6,1085.1 4030.6,1085.1 4031.6,1085.1 4032.7,1085.0 4033.7,1084.9 4034.7,1084.9 4035.8,1084.7 4036.8,1084.6 4037.8,1084.4 4038.8,1084.1 4039.9,1083.7 4040.9,1083.3 4041.9,1082.8 4042.9,1082.1 4044.0,1081.4 4045.0,1080.7 4046.0,1079.9 4047.0,1079.1 4048.1,1078.4 4049.1,1077.8 4050.1,1077.4 4051.1,1077.2 4052.2,1077.3 4053.2,1077.6 4054.2,1078.1 4055.2,1078.8 4056.3,1079.6 4057.3,1080.3 4058.3,1081.1 4059.3,1081.8 4060.4,1082.5 4061.4,1083.0 4062.4,1083.5 4063.4,1083.9 4064.5,1084.2 4065.5,1084.4 4066.5,1084.6 4067.5,1084.7 4068.6,1084.8 4069.6,1084.9 4070.6,1084.9 4071.6,1084.9 4072.7,1085.0 4073.7,1085.0 4074.7,1085.0 4075.8,1085.0 4076.8,1085.0 4077.8,1085.0 4078.8,1085.0 4079.9,1085.0 4080.9,1085.0 4081.9,1085.0 4082.9,1084.9 4084.0,1084.9 4085.0,1084.9 4086.0,1084.9 4087.0,1084.8 4088.1,1084.8 4089.1,1084.7 4090.1,1084.7 4091.1,1084.6 4092.2,1084.5 4093.2,1084.4 4094.2,1084.3 4095.2,1084.1 4096.3,1083.9 4097.3,1083.5 4098.3,1083.0 4099.3,1082.2 4100.4,1081.0 4101.4,1079.2 4102.4,1076.8 4103.4,1073.6 4104.5,1069.7 4105.5,1065.2 4106.5,1060.3 4107.5,1055.6 4108.6,1051.8 4109.6,1049.5 4110.6,1049.1 4111.6,1049.3 4112.7,1049.8 4113.7,1050.6 4114.7,1051.5 4115.8,1052.7 4116.8,1053.9 4117.8,1055.3 4118.8,1056.8 4119.9,1058.3 4120.9,1059.8 4121.9,1061.3 4122.9,1062.8 4124.0,1064.2 4125.0,1065.6 4126.0,1067.0 4127.0,1068.3 4128.1,1069.5 4129.1,1070.6 4130.1,1071.7 4131.1,1072.7 4132.2,1073.6 4133.2,1074.5 4134.2,1075.3 4135.2,1076.0 4136.3,1076.7 4137.3,1077.3 4138.3,1077.9 4139.3,1078.4 4140.4,1078.9 4141.4,1079.3 4142.4,1079.7 4143.4,1080.1 4144.5,1080.4 4145.5,1080.7 4146.5,1081.0 4147.5,1081.2 4148.6,1081.4 4149.6,1081.7 4150.6,1081.8 4151.6,1082.0 4152.7,1082.2 4153.7,1082.3 4154.7,1082.5 4155.8,1082.6 4156.8,1082.7 4157.8,1082.8 4158.8,1082.9 4159.9,1083.0 4160.9,1083.1 4161.9,1083.2 4162.9,1083.3 4164.0,1083.3 4165.0,1083.4 4166.0,1083.5 4167.0,1083.5 4168.1,1083.6 4169.1,1083.7 4170.1,1083.7 4171.1,1083.8 4172.2,1083.8 4173.2,1083.9 4174.2,1083.9 4175.2,1083.9 4176.3,1084.0 4177.3,1084.0 4178.3,1084.1 4179.3,1084.1 4180.4,1084.1 4181.4,1084.2 4182.4,1084.2 4183.4,1084.2 4184.5,1084.2 4185.5,1084.3 4186.5,1084.3 4187.5,1084.3 4188.6,1084.3 4189.6,1084.3 4190.6,1084.4 4191.6,1084.4 4192.7,1084.4 4193.7,1084.4 4194.7,1084.4 4195.8,1084.4 4196.8,1084.4 4197.8,1084.4 4198.8,1084.4 4199.9,1084.4 4200.9,1084.4 4201.9,1084.3 4202.9,1084.3 4204.0,1084.2 4205.0,1084.0 4206.0,1083.7 4207.0,1083.2 4208.1,1082.5 4209.1,1081.6 4210.1,1080.4 4211.1,1079.1 4212.2,1077.8 4213.2,1076.7 4214.2,1076.1 4215.2,1076.1 4216.3,1076.6 4217.3,1077.3 4218.3,1078.0 4219.3,1078.6 4220.4,1079.0 4221.4,1079.3 4222.4,1079.5 4223.4,1079.7 4224.5,1080.0" fill="none" stroke="#000" stroke-width="4.8" stroke-linejoin="round" stroke-linecap="butt"/>
<rect x="2568.0" y="722.8" width="30" height="30" fill="#FF0000"/>
<rect x="2676.7" y="141.9" width="30" height="30" fill="#FF0000"/>
<rect x="2710.0" y="972.6" width="30" height="30" fill="#FF0000"/>
<rect x="2831.8" y="897.7" width="30" height="30" fill="#FF0000"/>
<rect x="3043.1" y="958.1" width="30" height="30" fill="#FF0000"/>
<rect x="3114.9" y="772.8" width="30" height="30" fill="#FF0000"/>
<rect x="3228.9" y="729.1" width="30" height="30" fill="#FF0000"/>
<rect x="3399.2" y="1016.4" width="30" height="30" fill="#FF0000"/>
<rect x="3460.5" y="988.5" width="30" height="30" fill="#FF0000"/>
<rect x="3480.8" y="1016.4" width="30" height="30" fill="#FF0000"/>
<rect x="3563.1" y="1025.7" width="30" height="30" fill="#FF0000"/>
<rect x="3721.3" y="1014.3" width="30" height="30" fill="#FF0000"/>
<rect x="3778.9" y="970.6" width="30" height="30" fill="#FF0000"/>
<rect x="3877.2" y="1014.3" width="30" height="30" fill="#FF0000"/>
<rect x="4035.9" y="1029.9" width="30" height="30" fill="#FF0000"/>
<rect x="4094.8" y="1000.3" width="30" height="30" fill="#FF0000"/>
<rect x="4199.8" y="1028.0" width="30" height="30" fill="#FF0000"/>
<path d="M2508.8 967.2L2523.0 981.4L2508.8 995.6L2494.6 981.4Z" fill="#00B0F0" stroke="#00B0F0" stroke-width="1.6" stroke-linejoin="round"/>
<path d="M2721.3 936.0L2735.5 950.2L2721.3 964.4L2707.1 950.2Z" fill="#00B0F0" stroke="#00B0F0" stroke-width="1.6" stroke-linejoin="round"/>
<path d="M2843.5 863.1L2857.7 877.3L2843.5 891.5L2829.3 877.3Z" fill="#00B0F0" stroke="#00B0F0" stroke-width="1.6" stroke-linejoin="round"/>
<path d="M3053.6 925.6L3067.8 939.8L3053.6 954.0L3039.4 939.8Z" fill="#00B0F0" stroke="#00B0F0" stroke-width="1.6" stroke-linejoin="round"/>
<path d="M3125.4 696.5L3139.6 710.7L3125.4 724.9L3111.2 710.7Z" fill="#00B0F0" stroke="#00B0F0" stroke-width="1.6" stroke-linejoin="round"/>
<path d="M3240.1 654.9L3254.3 669.1L3240.1 683.3L3225.9 669.1Z" fill="#00B0F0" stroke="#00B0F0" stroke-width="1.6" stroke-linejoin="round"/>
<path d="M3366.0 988.0L3380.2 1002.2L3366.0 1016.4L3351.8 1002.2Z" fill="#00B0F0" stroke="#00B0F0" stroke-width="1.6" stroke-linejoin="round"/>
<path d="M3411.3 967.2L3425.5 981.4L3411.3 995.6L3397.1 981.4Z" fill="#00B0F0" stroke="#00B0F0" stroke-width="1.6" stroke-linejoin="round"/>
<path d="M3493.2 946.4L3507.4 960.6L3493.2 974.8L3479.0 960.6Z" fill="#00B0F0" stroke="#00B0F0" stroke-width="1.6" stroke-linejoin="round"/>
<path d="M3575.2 988.0L3589.4 1002.2L3575.2 1016.4L3561.0 1002.2Z" fill="#00B0F0" stroke="#00B0F0" stroke-width="1.6" stroke-linejoin="round"/>
<path d="M3733.0 967.2L3747.2 981.4L3733.0 995.6L3718.8 981.4Z" fill="#00B0F0" stroke="#00B0F0" stroke-width="1.6" stroke-linejoin="round"/>
<path d="M3791.0 894.3L3805.2 908.5L3791.0 922.7L3776.8 908.5Z" fill="#00B0F0" stroke="#00B0F0" stroke-width="1.6" stroke-linejoin="round"/>
<path d="M3887.6 967.2L3901.8 981.4L3887.6 995.6L3873.4 981.4Z" fill="#00B0F0" stroke="#00B0F0" stroke-width="1.6" stroke-linejoin="round"/>
<path d="M4048.1 988.0L4062.3 1002.2L4048.1 1016.4L4033.9 1002.2Z" fill="#00B0F0" stroke="#00B0F0" stroke-width="1.6" stroke-linejoin="round"/>
<path d="M4107.1 946.4L4121.3 960.6L4107.1 974.8L4092.9 960.6Z" fill="#00B0F0" stroke="#00B0F0" stroke-width="1.6" stroke-linejoin="round"/>
<path d="M4210.1 988.0L4224.3 1002.2L4210.1 1016.4L4195.9 1002.2Z" fill="#00B0F0" stroke="#00B0F0" stroke-width="1.6" stroke-linejoin="round"/>
<path d="M2583.0 657.6L2594.5 680.6L2571.5 680.6Z" fill="#00B050"/>
<path d="M2692.6 95.5L2704.1 118.5L2681.1 118.5Z" fill="#00B050"/>
<path d="M2725.4 886.6L2736.9 909.6L2713.9 909.6Z" fill="#00B050"/>
<path d="M2848.5 834.6L2860.0 857.6L2837.0 857.6Z" fill="#00B050"/>
<path d="M3059.3 886.6L3070.8 909.6L3047.8 909.6Z" fill="#00B050"/>
<path d="M3129.5 657.6L3141.0 680.6L3118.0 680.6Z" fill="#00B050"/>
<path d="M3244.6 626.4L3256.1 649.4L3233.1 649.4Z" fill="#00B050"/>
<path d="M3415.6 928.3L3427.1 951.3L3404.1 951.3Z" fill="#00B050"/>
<path d="M3477.8 907.4L3489.3 930.4L3466.3 930.4Z" fill="#00B050"/>
<path d="M3498.7 917.9L3510.2 940.9L3487.2 940.9Z" fill="#00B050"/>
<path d="M3579.7 949.1L3591.2 972.1L3568.2 972.1Z" fill="#00B050"/>
<path d="M3737.3 928.3L3748.8 951.3L3725.8 951.3Z" fill="#00B050"/>
<path d="M3794.7 865.8L3806.2 888.8L3783.2 888.8Z" fill="#00B050"/>
<path d="M3893.0 928.3L3904.5 951.3L3881.5 951.3Z" fill="#00B050"/>
<path d="M4048.9 928.3L4060.4 951.3L4037.4 951.3Z" fill="#00B050"/>
<path d="M4110.2 917.9L4121.7 940.9L4098.7 940.9Z" fill="#00B050"/>
<circle cx="2621.0" cy="1006.4" r="17.0" fill="#0070C0"/>
<circle cx="2675.9" cy="898.1" r="17.0" fill="#0070C0"/>
<circle cx="2711.2" cy="877.3" r="17.0" fill="#0070C0"/>
<circle cx="2943.0" cy="1045.9" r="17.0" fill="#0070C0"/>
<circle cx="3129.9" cy="756.5" r="17.0" fill="#0070C0"/>
<circle cx="3244.6" cy="712.8" r="17.0" fill="#0070C0"/>
<circle cx="3361.3" cy="1045.5" r="17.0" fill="#0070C0"/>
<circle cx="3793.9" cy="954.3" r="17.0" fill="#0070C0"/>
<circle cx="2515.9" cy="1023.0" r="13.5" fill="#FFC000" stroke="#E2AA00" stroke-width="3"/>
<circle cx="2551.6" cy="1023.0" r="13.5" fill="#FFC000" stroke="#E2AA00" stroke-width="3"/>
<circle cx="2773.8" cy="1023.0" r="13.5" fill="#FFC000" stroke="#E2AA00" stroke-width="3"/>
<circle cx="2879.2" cy="1023.0" r="13.5" fill="#FFC000" stroke="#E2AA00" stroke-width="3"/>
<circle cx="3088.9" cy="1023.0" r="13.5" fill="#FFC000" stroke="#E2AA00" stroke-width="3"/>
<circle cx="3465.9" cy="960.6" r="13.5" fill="#FFC000" stroke="#E2AA00" stroke-width="3"/>
<circle cx="3547.5" cy="1023.0" r="13.5" fill="#FFC000" stroke="#E2AA00" stroke-width="3"/>
<rect x="3255.0" y="176.8" width="30" height="30" fill="#FF0000"/>
<text transform="translate(3317.5,211.0) scale(1.05,1)" font-size="57.5"><tspan dy="0">ZnFe</tspan><tspan font-size="35" dy="13">2</tspan><tspan dy="-13">O</tspan><tspan font-size="35" dy="13">4</tspan></text>
<path d="M3589.3 177.4L3603.5 191.6L3589.3 205.8L3575.1 191.6Z" fill="#00B0F0" stroke="#00B0F0" stroke-width="1.6" stroke-linejoin="round"/>
<text transform="translate(3641.0,211.0) scale(1.03,1)" font-size="57.5"><tspan dy="0">CaFe</tspan><tspan font-size="35" dy="13">2</tspan><tspan dy="-13">O</tspan><tspan font-size="35" dy="13">4</tspan></text>
<path d="M3908.0 180.8L3919.2 202.8L3896.8 202.8Z" fill="#00B050"/>
<text transform="translate(3953.0,211.0) scale(1.024,1)" font-size="57.5"><tspan dy="0">Fe</tspan><tspan font-size="35" dy="13">3</tspan><tspan dy="-13">O</tspan><tspan font-size="35" dy="13">4</tspan></text>
<circle cx="3270.0" cy="325.0" r="15.0" fill="#0070C0"/>
<text transform="translate(3317.5,347.0) scale(1.087,1)" font-size="57.5"><tspan dy="0">ZnO</tspan></text>
<circle cx="3589.3" cy="325.2" r="13.5" fill="#FFC000" stroke="#E2AA00" stroke-width="3"/>
<text transform="translate(3643.5,341.0) scale(1.041,1)" font-size="57.5"><tspan dy="0">Pb</tspan><tspan font-size="35" dy="13">3</tspan><tspan dy="-13">O</tspan><tspan font-size="35" dy="13">4</tspan></text>
<text transform="translate(2188.4,548.5) rotate(-90)" font-size="58.8" font-weight="bold" text-anchor="middle">Intensity, counts</text>
<text x="3310.0" y="1258.7" font-size="58.9" text-anchor="middle" font-weight="bold" >2theta angle, deg</text>
<text x="3257" y="1387" font-size="72" text-anchor="middle">(<tspan font-weight="bold">b</tspan>)</text>
</svg>
</body></html>
